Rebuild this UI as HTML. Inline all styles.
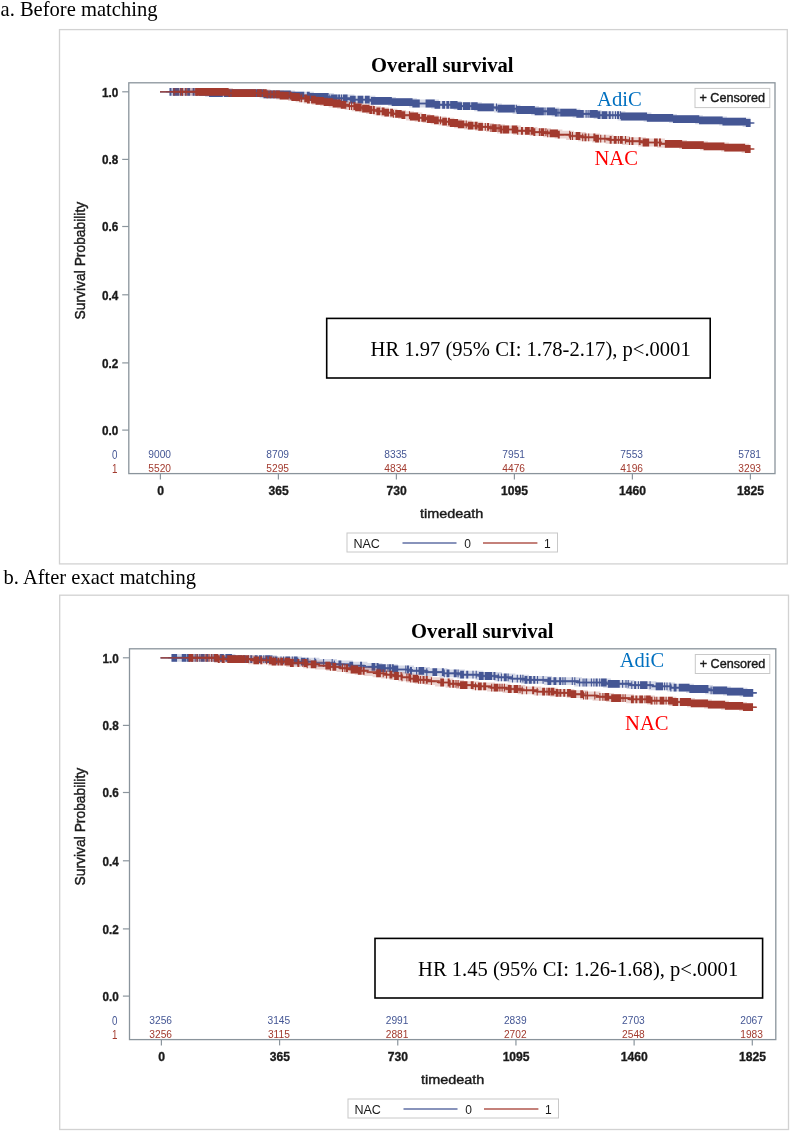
<!DOCTYPE html>
<html lang="en"><head><meta charset="utf-8"><title>Overall survival</title>
<style>html,body{margin:0;padding:0;background:#fff}body{width:790px;height:1132px;overflow:hidden}</style></head>
<body>
<svg width="790" height="1132" viewBox="0 0 790 1132" style="display:block">
<rect width="790" height="1132" fill="#fff"/>
<text x="0.5" y="15.6" font-family='"Liberation Serif", "Times New Roman", serif' font-size="20.55" font-weight="normal" fill="#000" text-anchor="start" textLength="157" lengthAdjust="spacingAndGlyphs">a. Before matching</text>
<rect x="59.5" y="29.6" width="727.80" height="534.30" fill="#fff" stroke="#d2d2d2" stroke-width="1.3"/>
<rect x="128.8" y="82.8" width="646.2" height="390.8" fill="#fff" stroke="#8a949c" stroke-width="1.3"/>
<text x="442.3" y="71.9" font-family='"Liberation Serif", "Times New Roman", serif' font-size="20.55" font-weight="bold" fill="#000" text-anchor="middle" textLength="142.4" lengthAdjust="spacingAndGlyphs">Overall survival</text>
<line x1="122.20000000000002" y1="91.80" x2="128.8" y2="91.80" stroke="#8b959d" stroke-width="1.2"/>
<text x="118.3" y="96.55" font-family='"Liberation Sans", Arial, sans-serif' font-size="13.3" font-weight="bold" fill="#1a1a1a" text-anchor="end" textLength="16.3" lengthAdjust="spacingAndGlyphs" stroke="#1a1a1a" stroke-width="0.35">1.0</text>
<line x1="122.20000000000002" y1="159.40" x2="128.8" y2="159.40" stroke="#8b959d" stroke-width="1.2"/>
<text x="118.3" y="164.15" font-family='"Liberation Sans", Arial, sans-serif' font-size="13.3" font-weight="bold" fill="#1a1a1a" text-anchor="end" textLength="16.3" lengthAdjust="spacingAndGlyphs" stroke="#1a1a1a" stroke-width="0.35">0.8</text>
<line x1="122.20000000000002" y1="226.50" x2="128.8" y2="226.50" stroke="#8b959d" stroke-width="1.2"/>
<text x="118.3" y="231.25" font-family='"Liberation Sans", Arial, sans-serif' font-size="13.3" font-weight="bold" fill="#1a1a1a" text-anchor="end" textLength="16.3" lengthAdjust="spacingAndGlyphs" stroke="#1a1a1a" stroke-width="0.35">0.6</text>
<line x1="122.20000000000002" y1="294.80" x2="128.8" y2="294.80" stroke="#8b959d" stroke-width="1.2"/>
<text x="118.3" y="299.55" font-family='"Liberation Sans", Arial, sans-serif' font-size="13.3" font-weight="bold" fill="#1a1a1a" text-anchor="end" textLength="16.3" lengthAdjust="spacingAndGlyphs" stroke="#1a1a1a" stroke-width="0.35">0.4</text>
<line x1="122.20000000000002" y1="362.90" x2="128.8" y2="362.90" stroke="#8b959d" stroke-width="1.2"/>
<text x="118.3" y="367.65" font-family='"Liberation Sans", Arial, sans-serif' font-size="13.3" font-weight="bold" fill="#1a1a1a" text-anchor="end" textLength="16.3" lengthAdjust="spacingAndGlyphs" stroke="#1a1a1a" stroke-width="0.35">0.2</text>
<line x1="122.20000000000002" y1="430.10" x2="128.8" y2="430.10" stroke="#8b959d" stroke-width="1.2"/>
<text x="118.3" y="434.85" font-family='"Liberation Sans", Arial, sans-serif' font-size="13.3" font-weight="bold" fill="#1a1a1a" text-anchor="end" textLength="16.3" lengthAdjust="spacingAndGlyphs" stroke="#1a1a1a" stroke-width="0.35">0.0</text>
<text transform="translate(85.0 260.6) rotate(-90)" font-family='"Liberation Sans", Arial, sans-serif' font-size="14.5" font-weight="normal" fill="#1a1a1a" stroke="#1a1a1a" stroke-width="0.45" text-anchor="middle" textLength="117.6" lengthAdjust="spacingAndGlyphs">Survival Probability</text>
<line x1="160.40" y1="473.6" x2="160.40" y2="479.40000000000003" stroke="#8b959d" stroke-width="1.2"/>
<text x="160.6" y="495.4" font-family='"Liberation Sans", Arial, sans-serif' font-size="13.3" font-weight="bold" fill="#1a1a1a" text-anchor="middle" textLength="6.8" lengthAdjust="spacingAndGlyphs" stroke="#1a1a1a" stroke-width="0.35">0</text>
<text x="159.7" y="457.8" font-family='"Liberation Sans", Arial, sans-serif' font-size="10.2" font-weight="normal" fill="#445694" text-anchor="middle">9000</text>
<text x="159.7" y="472.2" font-family='"Liberation Sans", Arial, sans-serif' font-size="10.2" font-weight="normal" fill="#A23A2E" text-anchor="middle">5520</text>
<line x1="278.40" y1="473.6" x2="278.40" y2="479.40000000000003" stroke="#8b959d" stroke-width="1.2"/>
<text x="278.6" y="495.4" font-family='"Liberation Sans", Arial, sans-serif' font-size="13.3" font-weight="bold" fill="#1a1a1a" text-anchor="middle" textLength="20.2" lengthAdjust="spacingAndGlyphs" stroke="#1a1a1a" stroke-width="0.35">365</text>
<text x="277.7" y="457.8" font-family='"Liberation Sans", Arial, sans-serif' font-size="10.2" font-weight="normal" fill="#445694" text-anchor="middle">8709</text>
<text x="277.7" y="472.2" font-family='"Liberation Sans", Arial, sans-serif' font-size="10.2" font-weight="normal" fill="#A23A2E" text-anchor="middle">5295</text>
<line x1="396.40" y1="473.6" x2="396.40" y2="479.40000000000003" stroke="#8b959d" stroke-width="1.2"/>
<text x="396.6" y="495.4" font-family='"Liberation Sans", Arial, sans-serif' font-size="13.3" font-weight="bold" fill="#1a1a1a" text-anchor="middle" textLength="20.2" lengthAdjust="spacingAndGlyphs" stroke="#1a1a1a" stroke-width="0.35">730</text>
<text x="395.7" y="457.8" font-family='"Liberation Sans", Arial, sans-serif' font-size="10.2" font-weight="normal" fill="#445694" text-anchor="middle">8335</text>
<text x="395.7" y="472.2" font-family='"Liberation Sans", Arial, sans-serif' font-size="10.2" font-weight="normal" fill="#A23A2E" text-anchor="middle">4834</text>
<line x1="514.40" y1="473.6" x2="514.40" y2="479.40000000000003" stroke="#8b959d" stroke-width="1.2"/>
<text x="514.6" y="495.4" font-family='"Liberation Sans", Arial, sans-serif' font-size="13.3" font-weight="bold" fill="#1a1a1a" text-anchor="middle" textLength="27.0" lengthAdjust="spacingAndGlyphs" stroke="#1a1a1a" stroke-width="0.35">1095</text>
<text x="513.7" y="457.8" font-family='"Liberation Sans", Arial, sans-serif' font-size="10.2" font-weight="normal" fill="#445694" text-anchor="middle">7951</text>
<text x="513.7" y="472.2" font-family='"Liberation Sans", Arial, sans-serif' font-size="10.2" font-weight="normal" fill="#A23A2E" text-anchor="middle">4476</text>
<line x1="632.40" y1="473.6" x2="632.40" y2="479.40000000000003" stroke="#8b959d" stroke-width="1.2"/>
<text x="632.6" y="495.4" font-family='"Liberation Sans", Arial, sans-serif' font-size="13.3" font-weight="bold" fill="#1a1a1a" text-anchor="middle" textLength="27.0" lengthAdjust="spacingAndGlyphs" stroke="#1a1a1a" stroke-width="0.35">1460</text>
<text x="631.7" y="457.8" font-family='"Liberation Sans", Arial, sans-serif' font-size="10.2" font-weight="normal" fill="#445694" text-anchor="middle">7553</text>
<text x="631.7" y="472.2" font-family='"Liberation Sans", Arial, sans-serif' font-size="10.2" font-weight="normal" fill="#A23A2E" text-anchor="middle">4196</text>
<line x1="750.40" y1="473.6" x2="750.40" y2="479.40000000000003" stroke="#8b959d" stroke-width="1.2"/>
<text x="750.6" y="495.4" font-family='"Liberation Sans", Arial, sans-serif' font-size="13.3" font-weight="bold" fill="#1a1a1a" text-anchor="middle" textLength="27.0" lengthAdjust="spacingAndGlyphs" stroke="#1a1a1a" stroke-width="0.35">1825</text>
<text x="749.7" y="457.8" font-family='"Liberation Sans", Arial, sans-serif' font-size="10.2" font-weight="normal" fill="#445694" text-anchor="middle">5781</text>
<text x="749.7" y="472.2" font-family='"Liberation Sans", Arial, sans-serif' font-size="10.2" font-weight="normal" fill="#A23A2E" text-anchor="middle">3293</text>
<text transform="translate(114.6 458.6) scale(0.72 1)" font-family='"Liberation Sans", Arial, sans-serif' font-size="13.6" fill="#445694" text-anchor="middle">0</text>
<text transform="translate(114.6 472.9) scale(0.72 1)" font-family='"Liberation Sans", Arial, sans-serif' font-size="13.6" fill="#A23A2E" text-anchor="middle">1</text>
<text x="451.6" y="517.6" font-family='"Liberation Sans", Arial, sans-serif' font-size="13" font-weight="normal" fill="#1a1a1a" text-anchor="middle" textLength="63.3" lengthAdjust="spacingAndGlyphs" stroke="#1a1a1a" stroke-width="0.4">timedeath</text>
<rect x="347" y="533" width="210.5" height="19" fill="#fff" stroke="#c8c8c8" stroke-width="1"/>
<text x="353.4" y="547.5" font-family='"Liberation Sans", Arial, sans-serif' font-size="12" font-weight="normal" fill="#1a1a1a" text-anchor="start" textLength="26.5" lengthAdjust="spacingAndGlyphs">NAC</text>
<line x1="402.5" y1="542.9" x2="456.5" y2="542.9" stroke="#445694" stroke-width="1.5" stroke-opacity="0.85"/>
<text x="467.6" y="547.5" font-family='"Liberation Sans", Arial, sans-serif' font-size="12" font-weight="normal" fill="#1a1a1a" text-anchor="middle">0</text>
<line x1="483" y1="542.9" x2="537.4" y2="542.9" stroke="#A23A2E" stroke-width="1.5" stroke-opacity="0.85"/>
<text x="547.4" y="547.5" font-family='"Liberation Sans", Arial, sans-serif' font-size="12" font-weight="normal" fill="#1a1a1a" text-anchor="middle">1</text>
<rect x="695" y="88.4" width="74.79999999999995" height="19.19999999999999" fill="#fff" stroke="#c8c8c8" stroke-width="1"/>
<text x="699.4" y="102.39999999999999" font-family='"Liberation Sans", Arial, sans-serif' font-size="12.4" font-weight="normal" fill="#1a1a1a" text-anchor="start" textLength="65.6" lengthAdjust="spacingAndGlyphs" stroke="#1a1a1a" stroke-width="0.4">+ Censored</text>
<path d="M170.0 91.8 L209.0 91.8 L209.0 93.1 L263.5 93.1 L263.5 94.4 L291.0 94.4 L291.0 95.7 L310.0 95.7 L310.0 97.0 L330.0 97.0 L330.0 98.3 L350.5 98.3 L350.5 99.6 L371.5 99.6 L371.5 100.9 L392.0 100.9 L392.0 102.2 L413.0 102.2 L413.0 103.5 L435.0 103.5 L435.0 104.8 L457.5 104.8 L457.5 106.1 L478.0 106.1 L478.0 107.4 L498.0 107.4 L498.0 108.7 L516.5 108.7 L516.5 110.0 L535.0 110.0 L535.0 111.3 L555.5 111.3 L555.5 112.6 L576.5 112.6 L576.5 113.9 L597.5 113.9 L597.5 115.2 L621.5 115.2 L621.5 116.5 L647.5 116.5 L647.5 117.8 L673.0 117.8 L673.0 119.1 L699.0 119.1 L699.0 120.4 L723.0 120.4 L723.0 121.7 L746.5 121.7 L746.5 123.0 L750.6 123.0" fill="none" stroke="#445694" stroke-width="7.8" stroke-opacity="0.22"/>
<path d="M170.0 91.8 L209.0 91.8 L209.0 93.1 L263.5 93.1 L263.5 94.4 L291.0 94.4 L291.0 95.7 L310.0 95.7 L310.0 97.0 L330.0 97.0 L330.0 98.3 L350.5 98.3 L350.5 99.6 L371.5 99.6 L371.5 100.9 L392.0 100.9 L392.0 102.2 L413.0 102.2 L413.0 103.5 L435.0 103.5 L435.0 104.8 L457.5 104.8 L457.5 106.1 L478.0 106.1 L478.0 107.4 L498.0 107.4 L498.0 108.7 L516.5 108.7 L516.5 110.0 L535.0 110.0 L535.0 111.3 L555.5 111.3 L555.5 112.6 L576.5 112.6 L576.5 113.9 L597.5 113.9 L597.5 115.2 L621.5 115.2 L621.5 116.5 L647.5 116.5 L647.5 117.8 L673.0 117.8 L673.0 119.1 L699.0 119.1 L699.0 120.4 L723.0 120.4 L723.0 121.7 L746.5 121.7 L746.5 123.0 L750.6 123.0" fill="none" stroke="#445694" stroke-width="2.4" stroke-opacity="0.55"/>
<path d="M160.0 91.8 L209.0 91.8 L209.0 93.1 L263.5 93.1 L263.5 94.4 L291.0 94.4 L291.0 95.7 L310.0 95.7 L310.0 97.0 L330.0 97.0 L330.0 98.3 L350.5 98.3 L350.5 99.6 L371.5 99.6 L371.5 100.9 L392.0 100.9 L392.0 102.2 L413.0 102.2 L413.0 103.5 L435.0 103.5 L435.0 104.8 L457.5 104.8 L457.5 106.1 L478.0 106.1 L478.0 107.4 L498.0 107.4 L498.0 108.7 L516.5 108.7 L516.5 110.0 L535.0 110.0 L535.0 111.3 L555.5 111.3 L555.5 112.6 L576.5 112.6 L576.5 113.9 L597.5 113.9 L597.5 115.2 L621.5 115.2 L621.5 116.5 L647.5 116.5 L647.5 117.8 L673.0 117.8 L673.0 119.1 L699.0 119.1 L699.0 120.4 L723.0 120.4 L723.0 121.7 L746.5 121.7 L746.5 123.0 L753.8 123.0" fill="none" stroke="#445694" stroke-width="1.2" stroke-linejoin="round"/>
<path d="M170.0 87.9v7.8M170.9 87.9v7.8M166.1 91.8h3.9M171.0 91.8h3.9M173.4 87.9v7.8M174.3 87.9v7.8M175.2 87.9v7.8M176.1 87.9v7.8M177.0 87.9v7.8M177.9 87.9v7.8M178.8 87.9v7.8M169.5 91.8h3.9M179.4 91.8h3.9M181.5 87.9v7.8M182.4 87.9v7.8M177.6 91.8h3.9M182.8 91.8h3.9M185.4 87.9v7.8M181.5 91.8h3.9M185.4 91.8h3.9M187.7 87.9v7.8M188.6 87.9v7.8M189.5 87.9v7.8M183.8 91.8h3.9M189.6 91.8h3.9M193.2 87.9v7.8M194.1 87.9v7.8M189.3 91.8h3.9M194.7 91.8h3.9M196.3 87.9v7.8M197.2 87.9v7.8M192.4 91.8h3.9M197.7 91.8h3.9M199.7 87.9v7.8M200.6 87.9v7.8M201.5 87.9v7.8M202.4 87.9v7.8M203.3 87.9v7.8M204.2 87.9v7.8M205.1 87.9v7.8M206.0 87.9v7.8M206.9 87.9v7.8M207.8 87.9v7.8M208.7 87.9v7.8M209.6 89.2v7.8M210.5 89.2v7.8M211.4 89.2v7.8M212.3 89.2v7.8M213.2 89.2v7.8M214.1 89.2v7.8M215.0 89.2v7.8M215.9 89.2v7.8M216.8 89.2v7.8M217.7 89.2v7.8M218.6 89.2v7.8M219.5 89.2v7.8M220.4 89.2v7.8M221.3 89.2v7.8M222.2 89.2v7.8M195.8 91.8h3.9M222.9 93.1h3.9M224.5 89.2v7.8M225.4 89.2v7.8M226.3 89.2v7.8M227.2 89.2v7.8M228.1 89.2v7.8M229.0 89.2v7.8M229.9 89.2v7.8M230.8 89.2v7.8M231.7 89.2v7.8M232.6 89.2v7.8M233.5 89.2v7.8M234.4 89.2v7.8M235.3 89.2v7.8M236.2 89.2v7.8M237.1 89.2v7.8M238.0 89.2v7.8M238.9 89.2v7.8M239.8 89.2v7.8M240.7 89.2v7.8M241.6 89.2v7.8M242.5 89.2v7.8M243.4 89.2v7.8M244.3 89.2v7.8M245.2 89.2v7.8M246.1 89.2v7.8M247.0 89.2v7.8M247.9 89.2v7.8M248.8 89.2v7.8M249.7 89.2v7.8M250.6 89.2v7.8M251.5 89.2v7.8M252.4 89.2v7.8M253.3 89.2v7.8M254.2 89.2v7.8M255.1 89.2v7.8M256.0 89.2v7.8M256.9 89.2v7.8M257.8 89.2v7.8M258.7 89.2v7.8M259.6 89.2v7.8M260.5 89.2v7.8M261.4 89.2v7.8M262.3 89.2v7.8M263.2 89.2v7.8M264.1 90.5v7.8M265.0 90.5v7.8M265.9 90.5v7.8M266.8 90.5v7.8M267.7 90.5v7.8M268.6 90.5v7.8M269.5 90.5v7.8M270.4 90.5v7.8M271.3 90.5v7.8M272.2 90.5v7.8M273.1 90.5v7.8M274.0 90.5v7.8M274.9 90.5v7.8M275.8 90.5v7.8M276.7 90.5v7.8M277.6 90.5v7.8M278.5 90.5v7.8M279.4 90.5v7.8M280.3 90.5v7.8M281.2 90.5v7.8M282.1 90.5v7.8M283.0 90.5v7.8M283.9 90.5v7.8M284.8 90.5v7.8M285.7 90.5v7.8M286.6 90.5v7.8M287.5 90.5v7.8M288.4 90.5v7.8M289.3 90.5v7.8M290.2 90.5v7.8M291.1 91.8v7.8M292.0 91.8v7.8M292.9 91.8v7.8M293.8 91.8v7.8M294.7 91.8v7.8M295.6 91.8v7.8M296.5 91.8v7.8M297.4 91.8v7.8M298.3 91.8v7.8M299.2 91.8v7.8M300.1 91.8v7.8M301.0 91.8v7.8M301.9 91.8v7.8M302.8 91.8v7.8M303.7 91.8v7.8M220.6 93.1h3.9M304.6 95.7h3.9M307.4 91.8v7.8M308.3 91.8v7.8M309.2 91.8v7.8M310.1 93.1v7.8M311.0 93.1v7.8M311.9 93.1v7.8M312.8 93.1v7.8M313.7 93.1v7.8M314.6 93.1v7.8M315.5 93.1v7.8M316.4 93.1v7.8M317.3 93.1v7.8M318.2 93.1v7.8M319.1 93.1v7.8M320.0 93.1v7.8M320.9 93.1v7.8M321.8 93.1v7.8M322.7 93.1v7.8M323.6 93.1v7.8M324.5 93.1v7.8M325.4 93.1v7.8M326.3 93.1v7.8M327.2 93.1v7.8M328.1 93.1v7.8M303.5 95.7h3.9M328.2 97.0h3.9M329.8 94.4v7.8M325.9 98.3h3.9M330.0 98.3h3.9M331.6 94.4v7.8M332.5 94.4v7.8M333.4 94.4v7.8M334.3 94.4v7.8M335.2 94.4v7.8M336.1 94.4v7.8M337.0 94.4v7.8M327.7 98.3h3.9M337.1 98.3h3.9M338.7 94.4v7.8M339.6 94.4v7.8M334.8 98.3h3.9M339.9 98.3h3.9M341.5 94.4v7.8M337.6 98.3h3.9M341.5 98.3h3.9M343.4 94.4v7.8M344.3 94.4v7.8M345.2 94.4v7.8M346.1 94.4v7.8M347.0 94.4v7.8M339.5 98.3h3.9M347.5 98.3h3.9M350.6 95.7v7.8M351.5 95.7v7.8M352.4 95.7v7.8M353.3 95.7v7.8M354.2 95.7v7.8M355.1 95.7v7.8M346.7 99.6h3.9M355.9 99.6h3.9M358.2 95.7v7.8M359.1 95.7v7.8M360.0 95.7v7.8M360.9 95.7v7.8M361.8 95.7v7.8M362.7 95.7v7.8M354.3 99.6h3.9M363.2 99.6h3.9M365.5 95.7v7.8M366.4 95.7v7.8M367.3 95.7v7.8M368.2 95.7v7.8M369.1 95.7v7.8M361.6 99.6h3.9M369.9 99.6h3.9M371.5 97.0v7.8M372.4 97.0v7.8M373.3 97.0v7.8M374.2 97.0v7.8M375.1 97.0v7.8M376.0 97.0v7.8M376.9 97.0v7.8M377.8 97.0v7.8M378.7 97.0v7.8M379.6 97.0v7.8M380.5 97.0v7.8M381.4 97.0v7.8M382.3 97.0v7.8M383.2 97.0v7.8M384.1 97.0v7.8M385.0 97.0v7.8M385.9 97.0v7.8M386.8 97.0v7.8M387.7 97.0v7.8M388.6 97.0v7.8M389.5 97.0v7.8M390.4 97.0v7.8M391.3 97.0v7.8M392.2 98.3v7.8M393.1 98.3v7.8M394.0 98.3v7.8M394.9 98.3v7.8M395.8 98.3v7.8M396.7 98.3v7.8M397.6 98.3v7.8M398.5 98.3v7.8M399.4 98.3v7.8M400.3 98.3v7.8M401.2 98.3v7.8M402.1 98.3v7.8M403.0 98.3v7.8M403.9 98.3v7.8M404.8 98.3v7.8M405.7 98.3v7.8M406.6 98.3v7.8M407.5 98.3v7.8M408.4 98.3v7.8M409.3 98.3v7.8M410.2 98.3v7.8M411.1 98.3v7.8M412.0 98.3v7.8M412.9 99.6v7.8M413.8 99.6v7.8M414.7 99.6v7.8M415.6 99.6v7.8M416.5 99.6v7.8M417.4 99.6v7.8M418.3 99.6v7.8M419.2 99.6v7.8M367.6 100.9h3.9M419.4 103.5h3.9M426.1 99.6v7.8M427.0 99.6v7.8M427.9 99.6v7.8M428.8 99.6v7.8M429.7 99.6v7.8M430.6 99.6v7.8M431.5 99.6v7.8M432.4 99.6v7.8M433.3 99.6v7.8M434.2 99.6v7.8M435.1 100.9v7.8M436.0 100.9v7.8M436.9 100.9v7.8M437.8 100.9v7.8M438.7 100.9v7.8M439.6 100.9v7.8M422.2 103.5h3.9M440.3 104.8h3.9M442.7 100.9v7.8M443.6 100.9v7.8M444.5 100.9v7.8M438.8 104.8h3.9M445.2 104.8h3.9M446.9 100.9v7.8M447.8 100.9v7.8M448.7 100.9v7.8M443.0 104.8h3.9M449.1 104.8h3.9M450.7 100.9v7.8M451.6 100.9v7.8M452.5 100.9v7.8M453.4 100.9v7.8M454.3 100.9v7.8M455.2 100.9v7.8M456.1 100.9v7.8M457.0 100.9v7.8M457.9 102.2v7.8M458.8 102.2v7.8M459.7 102.2v7.8M460.6 102.2v7.8M461.5 102.2v7.8M446.8 104.8h3.9M461.8 106.1h3.9M463.5 102.2v7.8M464.4 102.2v7.8M465.3 102.2v7.8M466.2 102.2v7.8M467.1 102.2v7.8M468.0 102.2v7.8M468.9 102.2v7.8M469.8 102.2v7.8M459.6 106.1h3.9M470.0 106.1h3.9M471.7 102.2v7.8M472.6 102.2v7.8M473.5 102.2v7.8M474.4 102.2v7.8M475.3 102.2v7.8M476.2 102.2v7.8M477.1 102.2v7.8M478.0 103.5v7.8M478.9 103.5v7.8M479.8 103.5v7.8M480.7 103.5v7.8M481.6 103.5v7.8M482.5 103.5v7.8M483.4 103.5v7.8M484.3 103.5v7.8M485.2 103.5v7.8M486.1 103.5v7.8M487.0 103.5v7.8M487.9 103.5v7.8M488.8 103.5v7.8M489.7 103.5v7.8M490.6 103.5v7.8M491.5 103.5v7.8M492.4 103.5v7.8M493.3 103.5v7.8M467.8 106.1h3.9M493.4 107.4h3.9M496.5 103.5v7.8M492.6 107.4h3.9M496.5 107.4h3.9M498.1 104.8v7.8M499.0 104.8v7.8M499.9 104.8v7.8M500.8 104.8v7.8M501.7 104.8v7.8M502.6 104.8v7.8M503.5 104.8v7.8M504.4 104.8v7.8M505.3 104.8v7.8M506.2 104.8v7.8M507.1 104.8v7.8M508.0 104.8v7.8M508.9 104.8v7.8M509.8 104.8v7.8M510.7 104.8v7.8M511.6 104.8v7.8M512.5 104.8v7.8M513.4 104.8v7.8M514.3 104.8v7.8M494.2 108.7h3.9M514.5 108.7h3.9M516.3 104.8v7.8M517.2 106.1v7.8M518.1 106.1v7.8M519.0 106.1v7.8M519.9 106.1v7.8M520.8 106.1v7.8M521.7 106.1v7.8M522.6 106.1v7.8M523.5 106.1v7.8M524.4 106.1v7.8M525.3 106.1v7.8M526.2 106.1v7.8M527.1 106.1v7.8M528.0 106.1v7.8M528.9 106.1v7.8M529.8 106.1v7.8M530.7 106.1v7.8M531.6 106.1v7.8M532.5 106.1v7.8M533.4 106.1v7.8M534.3 106.1v7.8M535.2 107.4v7.8M536.1 107.4v7.8M537.0 107.4v7.8M537.9 107.4v7.8M538.8 107.4v7.8M539.7 107.4v7.8M540.6 107.4v7.8M541.5 107.4v7.8M542.4 107.4v7.8M543.3 107.4v7.8M512.4 108.7h3.9M543.3 111.3h3.9M545.0 107.4v7.8M541.1 111.3h3.9M545.1 111.3h3.9M547.3 107.4v7.8M548.2 107.4v7.8M549.1 107.4v7.8M550.0 107.4v7.8M550.9 107.4v7.8M551.8 107.4v7.8M552.7 107.4v7.8M553.6 107.4v7.8M554.5 107.4v7.8M555.4 108.7v7.8M556.3 108.7v7.8M557.2 108.7v7.8M543.4 111.3h3.9M557.3 112.6h3.9M558.9 108.7v7.8M555.0 112.6h3.9M559.1 112.6h3.9M560.7 108.7v7.8M561.6 108.7v7.8M562.5 108.7v7.8M563.4 108.7v7.8M564.3 108.7v7.8M565.2 108.7v7.8M566.1 108.7v7.8M567.0 108.7v7.8M567.9 108.7v7.8M568.8 108.7v7.8M569.7 108.7v7.8M570.6 108.7v7.8M571.5 108.7v7.8M572.4 108.7v7.8M573.3 108.7v7.8M574.2 108.7v7.8M575.1 108.7v7.8M576.0 108.7v7.8M576.9 110.0v7.8M577.8 110.0v7.8M578.7 110.0v7.8M579.6 110.0v7.8M580.5 110.0v7.8M581.4 110.0v7.8M582.3 110.0v7.8M583.2 110.0v7.8M556.8 112.6h3.9M583.5 113.9h3.9M586.1 110.0v7.8M582.2 113.9h3.9M586.5 113.9h3.9M588.1 110.0v7.8M584.2 113.9h3.9M588.3 113.9h3.9M590.0 110.0v7.8M590.9 110.0v7.8M591.8 110.0v7.8M592.7 110.0v7.8M593.6 110.0v7.8M594.5 110.0v7.8M595.4 110.0v7.8M596.3 110.0v7.8M597.2 110.0v7.8M598.1 111.3v7.8M599.0 111.3v7.8M599.9 111.3v7.8M586.1 113.9h3.9M600.6 115.2h3.9M602.2 111.3v7.8M603.1 111.3v7.8M604.0 111.3v7.8M604.9 111.3v7.8M605.8 111.3v7.8M606.7 111.3v7.8M598.3 115.2h3.9M607.5 115.2h3.9M609.3 111.3v7.8M610.2 111.3v7.8M605.4 115.2h3.9M610.2 115.2h3.9M612.8 111.3v7.8M608.9 115.2h3.9M613.3 115.2h3.9M615.5 111.3v7.8M611.6 115.2h3.9M615.9 115.2h3.9M617.6 111.3v7.8M618.5 111.3v7.8M613.7 115.2h3.9M618.8 115.2h3.9M620.4 111.3v7.8M621.3 112.6v7.8M622.2 112.6v7.8M623.1 112.6v7.8M624.0 112.6v7.8M624.9 112.6v7.8M625.8 112.6v7.8M626.7 112.6v7.8M627.6 112.6v7.8M628.5 112.6v7.8M629.4 112.6v7.8M630.3 112.6v7.8M631.2 112.6v7.8M632.1 112.6v7.8M633.0 112.6v7.8M633.9 112.6v7.8M634.8 112.6v7.8M635.7 112.6v7.8M636.6 112.6v7.8M637.5 112.6v7.8M638.4 112.6v7.8M639.3 112.6v7.8M640.2 112.6v7.8M641.1 112.6v7.8M642.0 112.6v7.8M642.9 112.6v7.8M643.8 112.6v7.8M644.7 112.6v7.8M645.6 112.6v7.8M646.5 112.6v7.8M647.4 113.9v7.8M648.3 113.9v7.8M649.2 113.9v7.8M650.1 113.9v7.8M651.0 113.9v7.8M651.9 113.9v7.8M652.8 113.9v7.8M653.7 113.9v7.8M654.6 113.9v7.8M655.5 113.9v7.8M656.4 113.9v7.8M657.3 113.9v7.8M658.2 113.9v7.8M659.1 113.9v7.8M660.0 113.9v7.8M660.9 113.9v7.8M661.8 113.9v7.8M662.7 113.9v7.8M663.6 113.9v7.8M664.5 113.9v7.8M665.4 113.9v7.8M666.3 113.9v7.8M667.2 113.9v7.8M668.1 113.9v7.8M669.0 113.9v7.8M669.9 113.9v7.8M670.8 113.9v7.8M671.7 113.9v7.8M672.6 113.9v7.8M673.5 115.2v7.8M674.4 115.2v7.8M675.3 115.2v7.8M676.2 115.2v7.8M677.1 115.2v7.8M678.0 115.2v7.8M678.9 115.2v7.8M679.8 115.2v7.8M680.7 115.2v7.8M681.6 115.2v7.8M682.5 115.2v7.8M683.4 115.2v7.8M684.3 115.2v7.8M685.2 115.2v7.8M686.1 115.2v7.8M687.0 115.2v7.8M687.9 115.2v7.8M688.8 115.2v7.8M689.7 115.2v7.8M690.6 115.2v7.8M691.5 115.2v7.8M692.4 115.2v7.8M693.3 115.2v7.8M694.2 115.2v7.8M695.1 115.2v7.8M696.0 115.2v7.8M696.9 115.2v7.8M697.8 115.2v7.8M698.7 115.2v7.8M699.6 116.5v7.8M700.5 116.5v7.8M701.4 116.5v7.8M702.3 116.5v7.8M703.2 116.5v7.8M704.1 116.5v7.8M705.0 116.5v7.8M705.9 116.5v7.8M706.8 116.5v7.8M707.7 116.5v7.8M708.6 116.5v7.8M709.5 116.5v7.8M710.4 116.5v7.8M711.3 116.5v7.8M712.2 116.5v7.8M713.1 116.5v7.8M714.0 116.5v7.8M714.9 116.5v7.8M715.8 116.5v7.8M716.7 116.5v7.8M717.6 116.5v7.8M718.5 116.5v7.8M719.4 116.5v7.8M720.3 116.5v7.8M721.2 116.5v7.8M722.1 116.5v7.8M723.0 117.8v7.8M723.9 117.8v7.8M724.8 117.8v7.8M725.7 117.8v7.8M726.6 117.8v7.8M727.5 117.8v7.8M728.4 117.8v7.8M729.3 117.8v7.8M730.2 117.8v7.8M731.1 117.8v7.8M732.0 117.8v7.8M732.9 117.8v7.8M733.8 117.8v7.8M734.7 117.8v7.8M735.6 117.8v7.8M736.5 117.8v7.8M737.4 117.8v7.8M738.3 117.8v7.8M739.2 117.8v7.8M740.1 117.8v7.8M741.0 117.8v7.8M741.9 117.8v7.8M742.8 117.8v7.8M743.7 117.8v7.8M744.6 117.8v7.8M745.5 117.8v7.8M746.4 119.1v7.8M747.3 119.1v7.8M748.2 119.1v7.8M749.1 119.1v7.8M750.0 119.1v7.8M616.5 115.2h3.9M750.6 123.0h3.9" fill="none" stroke="#445694" stroke-width="1.1"/>
<path d="M174.0 91.8 L229.0 91.8 L229.0 93.1 L266.5 93.1 L266.5 94.4 L280.0 94.4 L280.0 95.7 L292.0 95.7 L292.0 97.0 L299.5 97.0 L299.5 98.3 L307.5 98.3 L307.5 99.6 L315.5 99.6 L315.5 100.9 L324.0 100.9 L324.0 102.2 L332.5 102.2 L332.5 103.5 L341.0 103.5 L341.0 104.8 L348.5 104.8 L348.5 106.1 L355.5 106.1 L355.5 107.4 L363.0 107.4 L363.0 108.7 L370.0 108.7 L370.0 110.0 L377.0 110.0 L377.0 111.3 L385.0 111.3 L385.0 112.6 L393.5 112.6 L393.5 113.9 L402.0 113.9 L402.0 115.2 L410.0 115.2 L410.0 116.5 L418.5 116.5 L418.5 117.8 L426.5 117.8 L426.5 119.1 L434.5 119.1 L434.5 120.4 L442.5 120.4 L442.5 121.7 L450.5 121.7 L450.5 123.0 L458.0 123.0 L458.0 124.3 L468.0 124.3 L468.0 125.6 L479.0 125.6 L479.0 126.9 L490.0 126.9 L490.0 128.2 L501.0 128.2 L501.0 129.5 L517.0 129.5 L517.0 130.8 L533.5 130.8 L533.5 132.1 L547.0 132.1 L547.0 133.4 L558.5 133.4 L558.5 134.7 L570.0 134.7 L570.0 136.0 L582.0 136.0 L582.0 137.3 L596.0 137.3 L596.0 138.6 L609.5 138.6 L609.5 139.9 L626.0 139.9 L626.0 141.2 L642.0 141.2 L642.0 142.5 L661.0 142.5 L661.0 143.8 L683.0 143.8 L683.0 145.1 L704.0 145.1 L704.0 146.4 L725.0 146.4 L725.0 147.7 L745.5 147.7 L745.5 149.0 L750.6 149.0" fill="none" stroke="#A23A2E" stroke-width="7.8" stroke-opacity="0.22"/>
<path d="M174.0 91.8 L229.0 91.8 L229.0 93.1 L266.5 93.1 L266.5 94.4 L280.0 94.4 L280.0 95.7 L292.0 95.7 L292.0 97.0 L299.5 97.0 L299.5 98.3 L307.5 98.3 L307.5 99.6 L315.5 99.6 L315.5 100.9 L324.0 100.9 L324.0 102.2 L332.5 102.2 L332.5 103.5 L341.0 103.5 L341.0 104.8 L348.5 104.8 L348.5 106.1 L355.5 106.1 L355.5 107.4 L363.0 107.4 L363.0 108.7 L370.0 108.7 L370.0 110.0 L377.0 110.0 L377.0 111.3 L385.0 111.3 L385.0 112.6 L393.5 112.6 L393.5 113.9 L402.0 113.9 L402.0 115.2 L410.0 115.2 L410.0 116.5 L418.5 116.5 L418.5 117.8 L426.5 117.8 L426.5 119.1 L434.5 119.1 L434.5 120.4 L442.5 120.4 L442.5 121.7 L450.5 121.7 L450.5 123.0 L458.0 123.0 L458.0 124.3 L468.0 124.3 L468.0 125.6 L479.0 125.6 L479.0 126.9 L490.0 126.9 L490.0 128.2 L501.0 128.2 L501.0 129.5 L517.0 129.5 L517.0 130.8 L533.5 130.8 L533.5 132.1 L547.0 132.1 L547.0 133.4 L558.5 133.4 L558.5 134.7 L570.0 134.7 L570.0 136.0 L582.0 136.0 L582.0 137.3 L596.0 137.3 L596.0 138.6 L609.5 138.6 L609.5 139.9 L626.0 139.9 L626.0 141.2 L642.0 141.2 L642.0 142.5 L661.0 142.5 L661.0 143.8 L683.0 143.8 L683.0 145.1 L704.0 145.1 L704.0 146.4 L725.0 146.4 L725.0 147.7 L745.5 147.7 L745.5 149.0 L750.6 149.0" fill="none" stroke="#A23A2E" stroke-width="2.4" stroke-opacity="0.55"/>
<path d="M160.0 91.8 L229.0 91.8 L229.0 93.1 L266.5 93.1 L266.5 94.4 L280.0 94.4 L280.0 95.7 L292.0 95.7 L292.0 97.0 L299.5 97.0 L299.5 98.3 L307.5 98.3 L307.5 99.6 L315.5 99.6 L315.5 100.9 L324.0 100.9 L324.0 102.2 L332.5 102.2 L332.5 103.5 L341.0 103.5 L341.0 104.8 L348.5 104.8 L348.5 106.1 L355.5 106.1 L355.5 107.4 L363.0 107.4 L363.0 108.7 L370.0 108.7 L370.0 110.0 L377.0 110.0 L377.0 111.3 L385.0 111.3 L385.0 112.6 L393.5 112.6 L393.5 113.9 L402.0 113.9 L402.0 115.2 L410.0 115.2 L410.0 116.5 L418.5 116.5 L418.5 117.8 L426.5 117.8 L426.5 119.1 L434.5 119.1 L434.5 120.4 L442.5 120.4 L442.5 121.7 L450.5 121.7 L450.5 123.0 L458.0 123.0 L458.0 124.3 L468.0 124.3 L468.0 125.6 L479.0 125.6 L479.0 126.9 L490.0 126.9 L490.0 128.2 L501.0 128.2 L501.0 129.5 L517.0 129.5 L517.0 130.8 L533.5 130.8 L533.5 132.1 L547.0 132.1 L547.0 133.4 L558.5 133.4 L558.5 134.7 L570.0 134.7 L570.0 136.0 L582.0 136.0 L582.0 137.3 L596.0 137.3 L596.0 138.6 L609.5 138.6 L609.5 139.9 L626.0 139.9 L626.0 141.2 L642.0 141.2 L642.0 142.5 L661.0 142.5 L661.0 143.8 L683.0 143.8 L683.0 145.1 L704.0 145.1 L704.0 146.4 L725.0 146.4 L725.0 147.7 L745.5 147.7 L745.5 149.0 L753.8 149.0" fill="none" stroke="#A23A2E" stroke-width="1.2" stroke-linejoin="round"/>
<path d="M174.0 87.9v7.8M170.1 91.8h3.9M174.0 91.8h3.9M180.6 87.9v7.8M176.7 91.8h3.9M180.6 91.8h3.9M182.6 87.9v7.8M178.7 91.8h3.9M182.6 91.8h3.9M186.2 87.9v7.8M182.3 91.8h3.9M186.2 91.8h3.9M195.7 87.9v7.8M196.6 87.9v7.8M197.5 87.9v7.8M198.4 87.9v7.8M199.3 87.9v7.8M200.2 87.9v7.8M201.1 87.9v7.8M202.0 87.9v7.8M202.9 87.9v7.8M203.8 87.9v7.8M204.7 87.9v7.8M205.6 87.9v7.8M206.5 87.9v7.8M207.4 87.9v7.8M208.3 87.9v7.8M209.2 87.9v7.8M210.1 87.9v7.8M211.0 87.9v7.8M211.9 87.9v7.8M212.8 87.9v7.8M213.7 87.9v7.8M214.6 87.9v7.8M215.5 87.9v7.8M216.4 87.9v7.8M217.3 87.9v7.8M218.2 87.9v7.8M219.1 87.9v7.8M220.0 87.9v7.8M220.9 87.9v7.8M221.8 87.9v7.8M222.7 87.9v7.8M223.6 87.9v7.8M224.5 87.9v7.8M225.4 87.9v7.8M226.3 87.9v7.8M227.2 87.9v7.8M228.1 87.9v7.8M229.0 89.2v7.8M229.9 89.2v7.8M191.8 91.8h3.9M230.4 93.1h3.9M232.0 89.2v7.8M232.9 89.2v7.8M233.8 89.2v7.8M234.7 89.2v7.8M235.6 89.2v7.8M236.5 89.2v7.8M237.4 89.2v7.8M238.3 89.2v7.8M239.2 89.2v7.8M240.1 89.2v7.8M241.0 89.2v7.8M241.9 89.2v7.8M242.8 89.2v7.8M243.7 89.2v7.8M244.6 89.2v7.8M245.5 89.2v7.8M246.4 89.2v7.8M247.3 89.2v7.8M248.2 89.2v7.8M249.1 89.2v7.8M250.0 89.2v7.8M250.9 89.2v7.8M251.8 89.2v7.8M252.7 89.2v7.8M253.6 89.2v7.8M254.5 89.2v7.8M255.4 89.2v7.8M228.1 93.1h3.9M256.0 93.1h3.9M257.6 89.2v7.8M258.5 89.2v7.8M259.4 89.2v7.8M260.3 89.2v7.8M261.2 89.2v7.8M253.7 93.1h3.9M261.8 93.1h3.9M263.4 89.2v7.8M264.3 89.2v7.8M265.2 89.2v7.8M266.1 89.2v7.8M267.0 90.5v7.8M267.9 90.5v7.8M259.5 93.1h3.9M268.2 94.4h3.9M270.1 90.5v7.8M271.0 90.5v7.8M266.2 94.4h3.9M271.5 94.4h3.9M273.2 90.5v7.8M274.1 90.5v7.8M275.0 90.5v7.8M269.3 94.4h3.9M275.0 94.4h3.9M276.6 90.5v7.8M277.5 90.5v7.8M278.4 90.5v7.8M279.3 90.5v7.8M280.2 91.8v7.8M281.1 91.8v7.8M282.0 91.8v7.8M282.9 91.8v7.8M283.8 91.8v7.8M284.7 91.8v7.8M285.6 91.8v7.8M286.5 91.8v7.8M287.4 91.8v7.8M288.3 91.8v7.8M272.7 94.4h3.9M288.5 95.7h3.9M290.1 91.8v7.8M291.0 91.8v7.8M291.9 93.1v7.8M292.8 93.1v7.8M293.7 93.1v7.8M294.6 93.1v7.8M295.5 93.1v7.8M296.4 93.1v7.8M297.3 93.1v7.8M298.2 93.1v7.8M299.1 93.1v7.8M300.0 94.4v7.8M286.2 95.7h3.9M300.0 98.3h3.9M301.6 94.4v7.8M297.7 98.3h3.9M301.6 98.3h3.9M304.8 94.4v7.8M305.7 94.4v7.8M306.6 94.4v7.8M307.5 95.7v7.8M308.4 95.7v7.8M309.3 95.7v7.8M300.9 98.3h3.9M310.0 99.6h3.9M311.6 95.7v7.8M312.5 95.7v7.8M313.4 95.7v7.8M314.3 95.7v7.8M315.2 95.7v7.8M316.1 97.0v7.8M317.0 97.0v7.8M317.9 97.0v7.8M318.8 97.0v7.8M319.7 97.0v7.8M320.6 97.0v7.8M321.5 97.0v7.8M322.4 97.0v7.8M323.3 97.0v7.8M324.2 98.3v7.8M325.1 98.3v7.8M326.0 98.3v7.8M326.9 98.3v7.8M327.8 98.3v7.8M328.7 98.3v7.8M329.6 98.3v7.8M330.5 98.3v7.8M331.4 98.3v7.8M332.3 98.3v7.8M333.2 99.6v7.8M334.1 99.6v7.8M335.0 99.6v7.8M335.9 99.6v7.8M336.8 99.6v7.8M337.7 99.6v7.8M338.6 99.6v7.8M339.5 99.6v7.8M340.4 99.6v7.8M341.3 100.9v7.8M342.2 100.9v7.8M343.1 100.9v7.8M344.0 100.9v7.8M344.9 100.9v7.8M345.8 100.9v7.8M307.7 99.6h3.9M345.9 104.8h3.9M349.5 102.2v7.8M345.6 106.1h3.9M349.9 106.1h3.9M351.6 102.2v7.8M347.7 106.1h3.9M352.2 106.1h3.9M353.9 102.2v7.8M354.8 102.2v7.8M355.7 103.5v7.8M356.6 103.5v7.8M357.5 103.5v7.8M358.4 103.5v7.8M359.3 103.5v7.8M360.2 103.5v7.8M361.1 103.5v7.8M350.0 106.1h3.9M361.1 107.4h3.9M362.7 104.8v7.8M363.6 104.8v7.8M364.5 104.8v7.8M365.4 104.8v7.8M366.3 104.8v7.8M367.2 104.8v7.8M368.1 104.8v7.8M369.0 104.8v7.8M369.9 106.1v7.8M370.8 106.1v7.8M371.7 106.1v7.8M358.8 108.7h3.9M371.8 110.0h3.9M373.4 106.1v7.8M374.3 106.1v7.8M369.5 110.0h3.9M374.4 110.0h3.9M377.0 107.4v7.8M377.9 107.4v7.8M378.8 107.4v7.8M379.7 107.4v7.8M373.1 111.3h3.9M380.5 111.3h3.9M382.2 107.4v7.8M383.1 107.4v7.8M384.0 107.4v7.8M384.9 108.7v7.8M385.8 108.7v7.8M386.7 108.7v7.8M387.6 108.7v7.8M388.5 108.7v7.8M378.3 111.3h3.9M388.9 112.6h3.9M390.7 108.7v7.8M391.6 108.7v7.8M392.5 108.7v7.8M393.4 110.0v7.8M386.8 112.6h3.9M394.1 113.9h3.9M395.7 110.0v7.8M396.6 110.0v7.8M397.5 110.0v7.8M398.4 110.0v7.8M399.3 110.0v7.8M400.2 110.0v7.8M401.1 110.0v7.8M402.0 111.3v7.8M402.9 111.3v7.8M403.8 111.3v7.8M404.7 111.3v7.8M391.8 113.9h3.9M405.5 115.2h3.9M409.5 111.3v7.8M410.4 112.6v7.8M411.3 112.6v7.8M412.2 112.6v7.8M413.1 112.6v7.8M414.0 112.6v7.8M414.9 112.6v7.8M415.8 112.6v7.8M416.7 112.6v7.8M417.6 112.6v7.8M418.5 113.9v7.8M419.4 113.9v7.8M405.6 115.2h3.9M420.0 117.8h3.9M421.9 113.9v7.8M422.8 113.9v7.8M423.7 113.9v7.8M424.6 113.9v7.8M425.5 113.9v7.8M418.0 117.8h3.9M425.8 117.8h3.9M427.4 115.2v7.8M428.3 115.2v7.8M429.2 115.2v7.8M430.1 115.2v7.8M431.0 115.2v7.8M431.9 115.2v7.8M432.8 115.2v7.8M433.7 115.2v7.8M434.6 116.5v7.8M435.5 116.5v7.8M436.4 116.5v7.8M437.3 116.5v7.8M438.2 116.5v7.8M423.5 119.1h3.9M438.6 120.4h3.9M440.5 116.5v7.8M436.6 120.4h3.9M441.2 120.4h3.9M442.8 117.8v7.8M443.7 117.8v7.8M444.6 117.8v7.8M445.5 117.8v7.8M446.4 117.8v7.8M438.9 121.7h3.9M446.8 121.7h3.9M448.5 117.8v7.8M449.4 117.8v7.8M450.3 119.1v7.8M451.2 119.1v7.8M452.1 119.1v7.8M453.0 119.1v7.8M453.9 119.1v7.8M454.8 119.1v7.8M455.7 119.1v7.8M456.6 119.1v7.8M457.5 119.1v7.8M458.4 120.4v7.8M459.3 120.4v7.8M460.2 120.4v7.8M461.1 120.4v7.8M462.0 120.4v7.8M462.9 120.4v7.8M463.8 120.4v7.8M444.6 121.7h3.9M464.6 124.3h3.9M466.2 120.4v7.8M462.3 124.3h3.9M466.2 124.3h3.9M468.4 121.7v7.8M469.3 121.7v7.8M470.2 121.7v7.8M471.1 121.7v7.8M472.0 121.7v7.8M472.9 121.7v7.8M464.5 125.6h3.9M473.6 125.6h3.9M475.2 121.7v7.8M476.1 121.7v7.8M477.0 121.7v7.8M471.3 125.6h3.9M477.2 125.6h3.9M478.8 123.0v7.8M479.7 123.0v7.8M480.6 123.0v7.8M481.5 123.0v7.8M482.4 123.0v7.8M474.9 126.9h3.9M483.2 126.9h3.9M485.3 123.0v7.8M481.4 126.9h3.9M485.9 126.9h3.9M487.6 123.0v7.8M488.5 123.0v7.8M483.7 126.9h3.9M489.1 126.9h3.9M491.0 124.3v7.8M487.1 128.2h3.9M491.0 128.2h3.9M492.6 124.3v7.8M493.5 124.3v7.8M494.4 124.3v7.8M495.3 124.3v7.8M496.2 124.3v7.8M488.7 128.2h3.9M496.3 128.2h3.9M498.1 124.3v7.8M494.2 128.2h3.9M498.2 128.2h3.9M499.8 124.3v7.8M500.7 125.6v7.8M501.6 125.6v7.8M495.9 128.2h3.9M501.6 129.5h3.9M503.2 125.6v7.8M504.1 125.6v7.8M505.0 125.6v7.8M505.9 125.6v7.8M506.8 125.6v7.8M507.7 125.6v7.8M508.6 125.6v7.8M499.3 129.5h3.9M509.2 129.5h3.9M512.3 125.6v7.8M513.2 125.6v7.8M514.1 125.6v7.8M515.0 125.6v7.8M515.9 125.6v7.8M516.8 125.6v7.8M517.7 126.9v7.8M508.4 129.5h3.9M518.4 130.8h3.9M521.5 126.9v7.8M522.4 126.9v7.8M517.6 130.8h3.9M522.8 130.8h3.9M525.6 126.9v7.8M526.5 126.9v7.8M527.4 126.9v7.8M528.3 126.9v7.8M529.2 126.9v7.8M521.7 130.8h3.9M529.6 130.8h3.9M531.2 126.9v7.8M532.1 126.9v7.8M533.0 126.9v7.8M533.9 128.2v7.8M534.8 128.2v7.8M527.3 130.8h3.9M535.0 132.1h3.9M539.4 128.2v7.8M535.5 132.1h3.9M539.4 132.1h3.9M541.0 128.2v7.8M541.9 128.2v7.8M542.8 128.2v7.8M543.7 128.2v7.8M537.1 132.1h3.9M544.2 132.1h3.9M545.9 128.2v7.8M542.0 132.1h3.9M546.1 132.1h3.9M547.7 129.5v7.8M543.8 133.4h3.9M547.7 133.4h3.9M550.2 129.5v7.8M551.1 129.5v7.8M552.0 129.5v7.8M552.9 129.5v7.8M553.8 129.5v7.8M554.7 129.5v7.8M555.6 129.5v7.8M556.5 129.5v7.8M557.4 129.5v7.8M558.3 130.8v7.8M559.2 130.8v7.8M546.3 133.4h3.9M560.0 134.7h3.9M569.7 130.8v7.8M570.6 132.1v7.8M565.8 134.7h3.9M570.9 136.0h3.9M572.5 132.1v7.8M568.6 136.0h3.9M573.0 136.0h3.9M576.2 132.1v7.8M577.1 132.1v7.8M578.0 132.1v7.8M578.9 132.1v7.8M579.8 132.1v7.8M572.3 136.0h3.9M580.2 136.0h3.9M582.7 133.4v7.8M578.8 137.3h3.9M582.9 137.3h3.9M585.0 133.4v7.8M585.9 133.4v7.8M581.1 137.3h3.9M586.2 137.3h3.9M588.7 133.4v7.8M584.8 137.3h3.9M588.9 137.3h3.9M593.9 133.4v7.8M594.8 133.4v7.8M595.7 134.7v7.8M596.6 134.7v7.8M597.5 134.7v7.8M598.4 134.7v7.8M590.0 137.3h3.9M599.1 138.6h3.9M600.7 134.7v7.8M596.8 138.6h3.9M601.0 138.6h3.9M604.9 134.7v7.8M601.0 138.6h3.9M605.2 138.6h3.9M610.2 136.0v7.8M611.1 136.0v7.8M606.3 139.9h3.9M611.5 139.9h3.9M614.3 136.0v7.8M615.2 136.0v7.8M616.1 136.0v7.8M610.4 139.9h3.9M616.8 139.9h3.9M618.4 136.0v7.8M614.5 139.9h3.9M618.8 139.9h3.9M620.4 136.0v7.8M621.3 136.0v7.8M622.2 136.0v7.8M616.5 139.9h3.9M622.7 139.9h3.9M625.5 136.0v7.8M621.6 139.9h3.9M625.5 139.9h3.9M629.5 137.3v7.8M625.6 141.2h3.9M630.4 141.2h3.9M632.0 137.3v7.8M632.9 137.3v7.8M628.1 141.2h3.9M632.9 141.2h3.9M639.2 137.3v7.8M640.1 137.3v7.8M635.3 141.2h3.9M640.7 141.2h3.9M643.2 138.6v7.8M644.1 138.6v7.8M645.0 138.6v7.8M645.9 138.6v7.8M646.8 138.6v7.8M647.7 138.6v7.8M648.6 138.6v7.8M639.3 142.5h3.9M649.0 142.5h3.9M654.5 138.6v7.8M655.4 138.6v7.8M656.3 138.6v7.8M657.2 138.6v7.8M650.6 142.5h3.9M657.6 142.5h3.9M659.5 138.6v7.8M660.4 138.6v7.8M655.6 142.5h3.9M661.2 143.8h3.9M665.4 139.9v7.8M666.3 139.9v7.8M667.2 139.9v7.8M668.1 139.9v7.8M669.0 139.9v7.8M669.9 139.9v7.8M670.8 139.9v7.8M671.7 139.9v7.8M672.6 139.9v7.8M673.5 139.9v7.8M674.4 139.9v7.8M675.3 139.9v7.8M676.2 139.9v7.8M677.1 139.9v7.8M678.0 139.9v7.8M678.9 139.9v7.8M679.8 139.9v7.8M680.7 139.9v7.8M681.6 139.9v7.8M682.5 141.2v7.8M683.4 141.2v7.8M684.3 141.2v7.8M685.2 141.2v7.8M686.1 141.2v7.8M687.0 141.2v7.8M687.9 141.2v7.8M688.8 141.2v7.8M689.7 141.2v7.8M690.6 141.2v7.8M691.5 141.2v7.8M692.4 141.2v7.8M693.3 141.2v7.8M694.2 141.2v7.8M695.1 141.2v7.8M696.0 141.2v7.8M696.9 141.2v7.8M697.8 141.2v7.8M698.7 141.2v7.8M699.6 141.2v7.8M700.5 141.2v7.8M701.4 141.2v7.8M702.3 141.2v7.8M703.2 141.2v7.8M704.1 142.5v7.8M705.0 142.5v7.8M705.9 142.5v7.8M706.8 142.5v7.8M707.7 142.5v7.8M708.6 142.5v7.8M709.5 142.5v7.8M710.4 142.5v7.8M711.3 142.5v7.8M712.2 142.5v7.8M713.1 142.5v7.8M714.0 142.5v7.8M714.9 142.5v7.8M715.8 142.5v7.8M716.7 142.5v7.8M717.6 142.5v7.8M718.5 142.5v7.8M719.4 142.5v7.8M720.3 142.5v7.8M721.2 142.5v7.8M722.1 142.5v7.8M723.0 142.5v7.8M723.9 142.5v7.8M724.8 143.8v7.8M725.7 143.8v7.8M726.6 143.8v7.8M727.5 143.8v7.8M728.4 143.8v7.8M729.3 143.8v7.8M730.2 143.8v7.8M731.1 143.8v7.8M732.0 143.8v7.8M732.9 143.8v7.8M733.8 143.8v7.8M734.7 143.8v7.8M735.6 143.8v7.8M736.5 143.8v7.8M737.4 143.8v7.8M738.3 143.8v7.8M739.2 143.8v7.8M740.1 143.8v7.8M741.0 143.8v7.8M741.9 143.8v7.8M742.8 143.8v7.8M743.7 143.8v7.8M744.6 143.8v7.8M745.5 145.1v7.8M746.4 145.1v7.8M747.3 145.1v7.8M748.2 145.1v7.8M749.1 145.1v7.8M750.0 145.1v7.8M661.5 143.8h3.9M750.6 149.0h3.9" fill="none" stroke="#A23A2E" stroke-width="1.1"/>
<text x="597.0" y="105.6" font-family='"Liberation Serif", "Times New Roman", serif' font-size="20.55" font-weight="normal" fill="#0070c0" text-anchor="start" textLength="44.8" lengthAdjust="spacingAndGlyphs">AdiC</text>
<text x="594.5" y="164.7" font-family='"Liberation Serif", "Times New Roman", serif' font-size="20.55" font-weight="normal" fill="#ff0000" text-anchor="start" textLength="43.4" lengthAdjust="spacingAndGlyphs">NAC</text>
<rect x="326.7" y="318.4" width="383.50000000000006" height="59.60000000000002" fill="#fff" stroke="#000" stroke-width="1.6"/>
<text x="370.6" y="355.9" font-family='"Liberation Serif", "Times New Roman", serif' font-size="20.55" font-weight="normal" fill="#000" text-anchor="start" textLength="320.1" lengthAdjust="spacingAndGlyphs">HR 1.97 (95% CI: 1.78-2.17), p&lt;.0001</text>
<text x="3.5" y="583.9" font-family='"Liberation Serif", "Times New Roman", serif' font-size="20.55" font-weight="normal" fill="#000" text-anchor="start" textLength="192.5" lengthAdjust="spacingAndGlyphs">b. After exact matching</text>
<rect x="59.7" y="595.2" width="728.80" height="534.30" fill="#fff" stroke="#d2d2d2" stroke-width="1.3"/>
<rect x="129.5" y="648.8" width="646.3" height="390.79999999999995" fill="#fff" stroke="#8a949c" stroke-width="1.3"/>
<text x="482.3" y="637.9" font-family='"Liberation Serif", "Times New Roman", serif' font-size="20.55" font-weight="bold" fill="#000" text-anchor="middle" textLength="142.4" lengthAdjust="spacingAndGlyphs">Overall survival</text>
<line x1="122.9" y1="657.80" x2="129.5" y2="657.80" stroke="#8b959d" stroke-width="1.2"/>
<text x="118.8" y="662.55" font-family='"Liberation Sans", Arial, sans-serif' font-size="13.3" font-weight="bold" fill="#1a1a1a" text-anchor="end" textLength="16.3" lengthAdjust="spacingAndGlyphs" stroke="#1a1a1a" stroke-width="0.35">1.0</text>
<line x1="122.9" y1="725.40" x2="129.5" y2="725.40" stroke="#8b959d" stroke-width="1.2"/>
<text x="118.8" y="730.15" font-family='"Liberation Sans", Arial, sans-serif' font-size="13.3" font-weight="bold" fill="#1a1a1a" text-anchor="end" textLength="16.3" lengthAdjust="spacingAndGlyphs" stroke="#1a1a1a" stroke-width="0.35">0.8</text>
<line x1="122.9" y1="792.50" x2="129.5" y2="792.50" stroke="#8b959d" stroke-width="1.2"/>
<text x="118.8" y="797.25" font-family='"Liberation Sans", Arial, sans-serif' font-size="13.3" font-weight="bold" fill="#1a1a1a" text-anchor="end" textLength="16.3" lengthAdjust="spacingAndGlyphs" stroke="#1a1a1a" stroke-width="0.35">0.6</text>
<line x1="122.9" y1="860.80" x2="129.5" y2="860.80" stroke="#8b959d" stroke-width="1.2"/>
<text x="118.8" y="865.55" font-family='"Liberation Sans", Arial, sans-serif' font-size="13.3" font-weight="bold" fill="#1a1a1a" text-anchor="end" textLength="16.3" lengthAdjust="spacingAndGlyphs" stroke="#1a1a1a" stroke-width="0.35">0.4</text>
<line x1="122.9" y1="928.90" x2="129.5" y2="928.90" stroke="#8b959d" stroke-width="1.2"/>
<text x="118.8" y="933.65" font-family='"Liberation Sans", Arial, sans-serif' font-size="13.3" font-weight="bold" fill="#1a1a1a" text-anchor="end" textLength="16.3" lengthAdjust="spacingAndGlyphs" stroke="#1a1a1a" stroke-width="0.35">0.2</text>
<line x1="122.9" y1="996.10" x2="129.5" y2="996.10" stroke="#8b959d" stroke-width="1.2"/>
<text x="118.8" y="1000.85" font-family='"Liberation Sans", Arial, sans-serif' font-size="13.3" font-weight="bold" fill="#1a1a1a" text-anchor="end" textLength="16.3" lengthAdjust="spacingAndGlyphs" stroke="#1a1a1a" stroke-width="0.35">0.0</text>
<text transform="translate(85.0 826.6) rotate(-90)" font-family='"Liberation Sans", Arial, sans-serif' font-size="14.5" font-weight="normal" fill="#1a1a1a" stroke="#1a1a1a" stroke-width="0.45" text-anchor="middle" textLength="117.6" lengthAdjust="spacingAndGlyphs">Survival Probability</text>
<line x1="161.40" y1="1039.6" x2="161.40" y2="1045.3999999999999" stroke="#8b959d" stroke-width="1.2"/>
<text x="161.6" y="1061.4" font-family='"Liberation Sans", Arial, sans-serif' font-size="13.3" font-weight="bold" fill="#1a1a1a" text-anchor="middle" textLength="6.8" lengthAdjust="spacingAndGlyphs" stroke="#1a1a1a" stroke-width="0.35">0</text>
<text x="160.7" y="1023.8" font-family='"Liberation Sans", Arial, sans-serif' font-size="10.2" font-weight="normal" fill="#445694" text-anchor="middle">3256</text>
<text x="160.7" y="1038.2" font-family='"Liberation Sans", Arial, sans-serif' font-size="10.2" font-weight="normal" fill="#A23A2E" text-anchor="middle">3256</text>
<line x1="279.58" y1="1039.6" x2="279.58" y2="1045.3999999999999" stroke="#8b959d" stroke-width="1.2"/>
<text x="279.78" y="1061.4" font-family='"Liberation Sans", Arial, sans-serif' font-size="13.3" font-weight="bold" fill="#1a1a1a" text-anchor="middle" textLength="20.2" lengthAdjust="spacingAndGlyphs" stroke="#1a1a1a" stroke-width="0.35">365</text>
<text x="278.88" y="1023.8" font-family='"Liberation Sans", Arial, sans-serif' font-size="10.2" font-weight="normal" fill="#445694" text-anchor="middle">3145</text>
<text x="278.88" y="1038.2" font-family='"Liberation Sans", Arial, sans-serif' font-size="10.2" font-weight="normal" fill="#A23A2E" text-anchor="middle">3115</text>
<line x1="397.76" y1="1039.6" x2="397.76" y2="1045.3999999999999" stroke="#8b959d" stroke-width="1.2"/>
<text x="397.96" y="1061.4" font-family='"Liberation Sans", Arial, sans-serif' font-size="13.3" font-weight="bold" fill="#1a1a1a" text-anchor="middle" textLength="20.2" lengthAdjust="spacingAndGlyphs" stroke="#1a1a1a" stroke-width="0.35">730</text>
<text x="397.06" y="1023.8" font-family='"Liberation Sans", Arial, sans-serif' font-size="10.2" font-weight="normal" fill="#445694" text-anchor="middle">2991</text>
<text x="397.06" y="1038.2" font-family='"Liberation Sans", Arial, sans-serif' font-size="10.2" font-weight="normal" fill="#A23A2E" text-anchor="middle">2881</text>
<line x1="515.94" y1="1039.6" x2="515.94" y2="1045.3999999999999" stroke="#8b959d" stroke-width="1.2"/>
<text x="516.14" y="1061.4" font-family='"Liberation Sans", Arial, sans-serif' font-size="13.3" font-weight="bold" fill="#1a1a1a" text-anchor="middle" textLength="27.0" lengthAdjust="spacingAndGlyphs" stroke="#1a1a1a" stroke-width="0.35">1095</text>
<text x="515.24" y="1023.8" font-family='"Liberation Sans", Arial, sans-serif' font-size="10.2" font-weight="normal" fill="#445694" text-anchor="middle">2839</text>
<text x="515.24" y="1038.2" font-family='"Liberation Sans", Arial, sans-serif' font-size="10.2" font-weight="normal" fill="#A23A2E" text-anchor="middle">2702</text>
<line x1="634.12" y1="1039.6" x2="634.12" y2="1045.3999999999999" stroke="#8b959d" stroke-width="1.2"/>
<text x="634.32" y="1061.4" font-family='"Liberation Sans", Arial, sans-serif' font-size="13.3" font-weight="bold" fill="#1a1a1a" text-anchor="middle" textLength="27.0" lengthAdjust="spacingAndGlyphs" stroke="#1a1a1a" stroke-width="0.35">1460</text>
<text x="633.42" y="1023.8" font-family='"Liberation Sans", Arial, sans-serif' font-size="10.2" font-weight="normal" fill="#445694" text-anchor="middle">2703</text>
<text x="633.42" y="1038.2" font-family='"Liberation Sans", Arial, sans-serif' font-size="10.2" font-weight="normal" fill="#A23A2E" text-anchor="middle">2548</text>
<line x1="752.30" y1="1039.6" x2="752.30" y2="1045.3999999999999" stroke="#8b959d" stroke-width="1.2"/>
<text x="752.5" y="1061.4" font-family='"Liberation Sans", Arial, sans-serif' font-size="13.3" font-weight="bold" fill="#1a1a1a" text-anchor="middle" textLength="27.0" lengthAdjust="spacingAndGlyphs" stroke="#1a1a1a" stroke-width="0.35">1825</text>
<text x="751.6" y="1023.8" font-family='"Liberation Sans", Arial, sans-serif' font-size="10.2" font-weight="normal" fill="#445694" text-anchor="middle">2067</text>
<text x="751.6" y="1038.2" font-family='"Liberation Sans", Arial, sans-serif' font-size="10.2" font-weight="normal" fill="#A23A2E" text-anchor="middle">1983</text>
<text transform="translate(114.6 1024.6) scale(0.72 1)" font-family='"Liberation Sans", Arial, sans-serif' font-size="13.6" fill="#445694" text-anchor="middle">0</text>
<text transform="translate(114.6 1038.9) scale(0.72 1)" font-family='"Liberation Sans", Arial, sans-serif' font-size="13.6" fill="#A23A2E" text-anchor="middle">1</text>
<text x="452.6" y="1083.6" font-family='"Liberation Sans", Arial, sans-serif' font-size="13" font-weight="normal" fill="#1a1a1a" text-anchor="middle" textLength="63.3" lengthAdjust="spacingAndGlyphs" stroke="#1a1a1a" stroke-width="0.4">timedeath</text>
<rect x="348.0" y="1099" width="210.5" height="19" fill="#fff" stroke="#c8c8c8" stroke-width="1"/>
<text x="354.4" y="1113.5" font-family='"Liberation Sans", Arial, sans-serif' font-size="12" font-weight="normal" fill="#1a1a1a" text-anchor="start" textLength="26.5" lengthAdjust="spacingAndGlyphs">NAC</text>
<line x1="403.5" y1="1108.9" x2="457.5" y2="1108.9" stroke="#445694" stroke-width="1.5" stroke-opacity="0.85"/>
<text x="468.6" y="1113.5" font-family='"Liberation Sans", Arial, sans-serif' font-size="12" font-weight="normal" fill="#1a1a1a" text-anchor="middle">0</text>
<line x1="484.0" y1="1108.9" x2="538.4" y2="1108.9" stroke="#A23A2E" stroke-width="1.5" stroke-opacity="0.85"/>
<text x="548.4" y="1113.5" font-family='"Liberation Sans", Arial, sans-serif' font-size="12" font-weight="normal" fill="#1a1a1a" text-anchor="middle">1</text>
<rect x="695.3" y="654.5" width="74.5" height="19.0" fill="#fff" stroke="#c8c8c8" stroke-width="1"/>
<text x="699.6999999999999" y="668.3" font-family='"Liberation Sans", Arial, sans-serif' font-size="12.4" font-weight="normal" fill="#1a1a1a" text-anchor="start" textLength="65.6" lengthAdjust="spacingAndGlyphs" stroke="#1a1a1a" stroke-width="0.4">+ Censored</text>
<path d="M172.0 657.8 L231.5 657.8 L231.5 659.1 L273.0 659.1 L273.0 660.4 L298.0 660.4 L298.0 661.7 L315.5 661.7 L315.5 663.0 L333.0 663.0 L333.0 664.3 L349.0 664.3 L349.0 665.6 L363.5 665.6 L363.5 666.9 L378.5 666.9 L378.5 668.2 L394.0 668.2 L394.0 669.5 L410.0 669.5 L410.0 670.8 L426.0 670.8 L426.0 672.1 L443.5 672.1 L443.5 673.4 L461.0 673.4 L461.0 674.7 L479.5 674.7 L479.5 676.0 L498.0 676.0 L498.0 677.3 L511.5 677.3 L511.5 678.6 L525.0 678.6 L525.0 679.9 L548.0 679.9 L548.0 681.2 L578.0 681.2 L578.0 682.5 L607.0 682.5 L607.0 683.8 L630.5 683.8 L630.5 685.1 L652.5 685.1 L652.5 686.4 L671.0 686.4 L671.0 687.7 L690.0 687.7 L690.0 689.0 L709.0 689.0 L709.0 690.3 L727.0 690.3 L727.0 691.6 L743.5 691.6 L743.5 692.9 L753.0 692.9" fill="none" stroke="#445694" stroke-width="7.8" stroke-opacity="0.22"/>
<path d="M172.0 657.8 L231.5 657.8 L231.5 659.1 L273.0 659.1 L273.0 660.4 L298.0 660.4 L298.0 661.7 L315.5 661.7 L315.5 663.0 L333.0 663.0 L333.0 664.3 L349.0 664.3 L349.0 665.6 L363.5 665.6 L363.5 666.9 L378.5 666.9 L378.5 668.2 L394.0 668.2 L394.0 669.5 L410.0 669.5 L410.0 670.8 L426.0 670.8 L426.0 672.1 L443.5 672.1 L443.5 673.4 L461.0 673.4 L461.0 674.7 L479.5 674.7 L479.5 676.0 L498.0 676.0 L498.0 677.3 L511.5 677.3 L511.5 678.6 L525.0 678.6 L525.0 679.9 L548.0 679.9 L548.0 681.2 L578.0 681.2 L578.0 682.5 L607.0 682.5 L607.0 683.8 L630.5 683.8 L630.5 685.1 L652.5 685.1 L652.5 686.4 L671.0 686.4 L671.0 687.7 L690.0 687.7 L690.0 689.0 L709.0 689.0 L709.0 690.3 L727.0 690.3 L727.0 691.6 L743.5 691.6 L743.5 692.9 L753.0 692.9" fill="none" stroke="#445694" stroke-width="2.4" stroke-opacity="0.55"/>
<path d="M160.5 657.8 L231.5 657.8 L231.5 659.1 L273.0 659.1 L273.0 660.4 L298.0 660.4 L298.0 661.7 L315.5 661.7 L315.5 663.0 L333.0 663.0 L333.0 664.3 L349.0 664.3 L349.0 665.6 L363.5 665.6 L363.5 666.9 L378.5 666.9 L378.5 668.2 L394.0 668.2 L394.0 669.5 L410.0 669.5 L410.0 670.8 L426.0 670.8 L426.0 672.1 L443.5 672.1 L443.5 673.4 L461.0 673.4 L461.0 674.7 L479.5 674.7 L479.5 676.0 L498.0 676.0 L498.0 677.3 L511.5 677.3 L511.5 678.6 L525.0 678.6 L525.0 679.9 L548.0 679.9 L548.0 681.2 L578.0 681.2 L578.0 682.5 L607.0 682.5 L607.0 683.8 L630.5 683.8 L630.5 685.1 L652.5 685.1 L652.5 686.4 L671.0 686.4 L671.0 687.7 L690.0 687.7 L690.0 689.0 L709.0 689.0 L709.0 690.3 L727.0 690.3 L727.0 691.6 L743.5 691.6 L743.5 692.9 L756.5 692.9" fill="none" stroke="#445694" stroke-width="1.2" stroke-linejoin="round"/>
<path d="M172.0 653.9v7.8M172.9 653.9v7.8M173.8 653.9v7.8M174.7 653.9v7.8M175.6 653.9v7.8M176.5 653.9v7.8M168.1 657.8h3.9M176.7 657.8h3.9M182.3 653.9v7.8M183.2 653.9v7.8M184.1 653.9v7.8M185.0 653.9v7.8M185.9 653.9v7.8M178.4 657.8h3.9M186.0 657.8h3.9M187.6 653.9v7.8M188.5 653.9v7.8M189.4 653.9v7.8M183.7 657.8h3.9M189.8 657.8h3.9M191.8 653.9v7.8M192.7 653.9v7.8M187.9 657.8h3.9M193.6 657.8h3.9M195.2 653.9v7.8M191.3 657.8h3.9M195.4 657.8h3.9M197.4 653.9v7.8M193.5 657.8h3.9M197.7 657.8h3.9M199.8 653.9v7.8M195.9 657.8h3.9M199.8 657.8h3.9M201.4 653.9v7.8M202.3 653.9v7.8M203.2 653.9v7.8M204.1 653.9v7.8M197.5 657.8h3.9M204.6 657.8h3.9M206.7 653.9v7.8M207.6 653.9v7.8M202.8 657.8h3.9M208.3 657.8h3.9M211.5 653.9v7.8M207.6 657.8h3.9M212.4 657.8h3.9M214.0 653.9v7.8M214.9 653.9v7.8M215.8 653.9v7.8M216.7 653.9v7.8M217.6 653.9v7.8M210.1 657.8h3.9M218.1 657.8h3.9M220.6 653.9v7.8M221.5 653.9v7.8M222.4 653.9v7.8M223.3 653.9v7.8M216.7 657.8h3.9M223.3 657.8h3.9M226.0 653.9v7.8M226.9 653.9v7.8M227.8 653.9v7.8M228.7 653.9v7.8M229.6 653.9v7.8M230.5 653.9v7.8M231.4 653.9v7.8M232.3 655.2v7.8M233.2 655.2v7.8M234.1 655.2v7.8M235.0 655.2v7.8M235.9 655.2v7.8M222.1 657.8h3.9M236.1 659.1h3.9M238.0 655.2v7.8M238.9 655.2v7.8M239.8 655.2v7.8M240.7 655.2v7.8M241.6 655.2v7.8M234.1 659.1h3.9M241.7 659.1h3.9M243.6 655.2v7.8M244.5 655.2v7.8M245.4 655.2v7.8M239.7 659.1h3.9M245.7 659.1h3.9M248.5 655.2v7.8M244.6 659.1h3.9M249.1 659.1h3.9M250.8 655.2v7.8M251.7 655.2v7.8M246.9 659.1h3.9M252.2 659.1h3.9M255.3 655.2v7.8M256.2 655.2v7.8M257.1 655.2v7.8M251.4 659.1h3.9M257.5 659.1h3.9M259.6 655.2v7.8M260.5 655.2v7.8M261.4 655.2v7.8M255.7 659.1h3.9M262.2 659.1h3.9M263.8 655.2v7.8M259.9 659.1h3.9M263.9 659.1h3.9M265.7 655.2v7.8M266.6 655.2v7.8M267.5 655.2v7.8M268.4 655.2v7.8M269.3 655.2v7.8M270.2 655.2v7.8M261.8 659.1h3.9M270.2 659.1h3.9M271.8 655.2v7.8M267.9 659.1h3.9M271.8 659.1h3.9M273.4 656.5v7.8M269.5 660.4h3.9M273.4 660.4h3.9M275.1 656.5v7.8M276.0 656.5v7.8M276.9 656.5v7.8M271.2 660.4h3.9M277.2 660.4h3.9M281.0 656.5v7.8M277.1 660.4h3.9M281.7 660.4h3.9M283.6 656.5v7.8M279.7 660.4h3.9M284.1 660.4h3.9M285.9 656.5v7.8M286.8 656.5v7.8M287.7 656.5v7.8M288.6 656.5v7.8M289.5 656.5v7.8M282.0 660.4h3.9M289.9 660.4h3.9M292.3 656.5v7.8M288.4 660.4h3.9M292.7 660.4h3.9M294.3 656.5v7.8M295.2 656.5v7.8M296.1 656.5v7.8M297.0 656.5v7.8M297.9 657.8v7.8M290.4 660.4h3.9M298.4 661.7h3.9M301.4 657.8v7.8M302.3 657.8v7.8M303.2 657.8v7.8M304.1 657.8v7.8M305.0 657.8v7.8M297.5 661.7h3.9M305.3 661.7h3.9M307.1 657.8v7.8M308.0 657.8v7.8M303.2 661.7h3.9M308.6 661.7h3.9M314.8 657.8v7.8M315.7 659.1v7.8M310.9 661.7h3.9M316.5 663.0h3.9M323.6 659.1v7.8M319.7 663.0h3.9M323.6 663.0h3.9M332.2 659.1v7.8M328.3 663.0h3.9M332.2 663.0h3.9M334.4 660.4v7.8M330.5 664.3h3.9M334.4 664.3h3.9M339.0 660.4v7.8M339.9 660.4v7.8M340.8 660.4v7.8M335.1 664.3h3.9M341.4 664.3h3.9M349.9 661.7v7.8M350.8 661.7v7.8M351.7 661.7v7.8M352.6 661.7v7.8M346.0 665.6h3.9M353.5 665.6h3.9M360.6 661.7v7.8M361.5 661.7v7.8M356.7 665.6h3.9M362.0 665.6h3.9M372.1 663.0v7.8M373.0 663.0v7.8M373.9 663.0v7.8M374.8 663.0v7.8M368.2 666.9h3.9M375.1 666.9h3.9M377.1 663.0v7.8M378.0 663.0v7.8M378.9 664.3v7.8M379.8 664.3v7.8M380.7 664.3v7.8M381.6 664.3v7.8M382.5 664.3v7.8M383.4 664.3v7.8M384.3 664.3v7.8M385.2 664.3v7.8M373.2 666.9h3.9M385.8 668.2h3.9M388.0 664.3v7.8M384.1 668.2h3.9M388.0 668.2h3.9M389.6 664.3v7.8M390.5 664.3v7.8M385.7 668.2h3.9M390.7 668.2h3.9M392.3 664.3v7.8M393.2 664.3v7.8M394.1 665.6v7.8M395.0 665.6v7.8M395.9 665.6v7.8M396.8 665.6v7.8M397.7 665.6v7.8M388.4 668.2h3.9M398.6 669.5h3.9M405.8 665.6v7.8M401.9 669.5h3.9M405.9 669.5h3.9M407.5 665.6v7.8M408.4 665.6v7.8M403.6 669.5h3.9M408.9 669.5h3.9M410.5 666.9v7.8M411.4 666.9v7.8M406.6 670.8h3.9M412.0 670.8h3.9M416.6 666.9v7.8M412.7 670.8h3.9M416.8 670.8h3.9M419.1 666.9v7.8M420.0 666.9v7.8M420.9 666.9v7.8M421.8 666.9v7.8M422.7 666.9v7.8M423.6 666.9v7.8M415.2 670.8h3.9M424.4 670.8h3.9M426.8 668.2v7.8M422.9 672.1h3.9M427.3 672.1h3.9M433.0 668.2v7.8M433.9 668.2v7.8M434.8 668.2v7.8M435.7 668.2v7.8M436.6 668.2v7.8M429.1 672.1h3.9M436.7 672.1h3.9M442.4 668.2v7.8M443.3 668.2v7.8M444.2 669.5v7.8M438.5 672.1h3.9M444.8 673.4h3.9M447.1 669.5v7.8M448.0 669.5v7.8M448.9 669.5v7.8M443.2 673.4h3.9M449.5 673.4h3.9M454.3 669.5v7.8M455.2 669.5v7.8M456.1 669.5v7.8M450.4 673.4h3.9M456.3 673.4h3.9M458.1 669.5v7.8M454.2 673.4h3.9M458.5 673.4h3.9M460.7 670.8v7.8M461.6 670.8v7.8M462.5 670.8v7.8M463.4 670.8v7.8M456.8 674.7h3.9M463.9 674.7h3.9M466.8 670.8v7.8M467.7 670.8v7.8M462.9 674.7h3.9M468.3 674.7h3.9M473.0 670.8v7.8M469.1 674.7h3.9M473.0 674.7h3.9M476.2 670.8v7.8M472.3 674.7h3.9M476.7 674.7h3.9M479.5 672.1v7.8M480.4 672.1v7.8M481.3 672.1v7.8M482.2 672.1v7.8M483.1 672.1v7.8M475.6 676.0h3.9M483.6 676.0h3.9M485.3 672.1v7.8M486.2 672.1v7.8M487.1 672.1v7.8M488.0 672.1v7.8M488.9 672.1v7.8M489.8 672.1v7.8M490.7 672.1v7.8M491.6 672.1v7.8M481.4 676.0h3.9M492.4 676.0h3.9M494.0 672.1v7.8M494.9 672.1v7.8M490.1 676.0h3.9M495.6 676.0h3.9M498.3 673.4v7.8M494.4 677.3h3.9M498.5 677.3h3.9M501.4 673.4v7.8M497.5 677.3h3.9M502.1 677.3h3.9M504.4 673.4v7.8M505.3 673.4v7.8M506.2 673.4v7.8M500.5 677.3h3.9M506.5 677.3h3.9M508.1 673.4v7.8M504.2 677.3h3.9M508.5 677.3h3.9M512.5 674.7v7.8M508.6 678.6h3.9M512.5 678.6h3.9M517.3 674.7v7.8M513.4 678.6h3.9M517.3 678.6h3.9M520.6 674.7v7.8M516.7 678.6h3.9M520.6 678.6h3.9M522.9 674.7v7.8M519.0 678.6h3.9M523.5 678.6h3.9M525.1 676.0v7.8M526.0 676.0v7.8M526.9 676.0v7.8M521.2 679.9h3.9M527.0 679.9h3.9M529.4 676.0v7.8M530.3 676.0v7.8M531.2 676.0v7.8M525.5 679.9h3.9M531.2 679.9h3.9M533.8 676.0v7.8M534.7 676.0v7.8M529.9 679.9h3.9M535.0 679.9h3.9M537.5 676.0v7.8M533.6 679.9h3.9M537.7 679.9h3.9M543.1 676.0v7.8M539.2 679.9h3.9M543.1 679.9h3.9M548.0 677.3v7.8M548.9 677.3v7.8M549.8 677.3v7.8M550.7 677.3v7.8M544.1 681.2h3.9M551.5 681.2h3.9M554.0 677.3v7.8M554.9 677.3v7.8M555.8 677.3v7.8M550.1 681.2h3.9M556.5 681.2h3.9M559.7 677.3v7.8M560.6 677.3v7.8M555.8 681.2h3.9M561.0 681.2h3.9M562.9 677.3v7.8M559.0 681.2h3.9M563.1 681.2h3.9M565.1 677.3v7.8M561.2 681.2h3.9M565.4 681.2h3.9M572.3 677.3v7.8M568.4 681.2h3.9M572.7 681.2h3.9M574.8 677.3v7.8M570.9 681.2h3.9M575.4 681.2h3.9M579.6 678.6v7.8M575.7 682.5h3.9M580.4 682.5h3.9M583.1 678.6v7.8M579.2 682.5h3.9M583.2 682.5h3.9M585.0 678.6v7.8M581.1 682.5h3.9M585.0 682.5h3.9M586.6 678.6v7.8M582.7 682.5h3.9M586.7 682.5h3.9M591.4 678.6v7.8M587.5 682.5h3.9M592.3 682.5h3.9M593.9 678.6v7.8M590.0 682.5h3.9M594.6 682.5h3.9M596.2 678.6v7.8M597.1 678.6v7.8M592.3 682.5h3.9M597.4 682.5h3.9M599.7 678.6v7.8M595.8 682.5h3.9M600.0 682.5h3.9M601.6 678.6v7.8M602.5 678.6v7.8M603.4 678.6v7.8M604.3 678.6v7.8M605.2 678.6v7.8M606.1 678.6v7.8M597.7 682.5h3.9M606.8 683.8h3.9M608.4 679.9v7.8M609.3 679.9v7.8M610.2 679.9v7.8M611.1 679.9v7.8M612.0 679.9v7.8M612.9 679.9v7.8M613.8 679.9v7.8M614.7 679.9v7.8M615.6 679.9v7.8M616.5 679.9v7.8M617.4 679.9v7.8M618.3 679.9v7.8M619.2 679.9v7.8M604.5 683.8h3.9M620.1 683.8h3.9M622.6 679.9v7.8M618.7 683.8h3.9M622.6 683.8h3.9M626.0 679.9v7.8M622.1 683.8h3.9M626.4 683.8h3.9M628.2 679.9v7.8M624.3 683.8h3.9M628.2 683.8h3.9M631.8 681.2v7.8M627.9 685.1h3.9M631.8 685.1h3.9M634.7 681.2v7.8M635.6 681.2v7.8M630.8 685.1h3.9M635.7 685.1h3.9M638.4 681.2v7.8M634.5 685.1h3.9M639.0 685.1h3.9M640.6 681.2v7.8M641.5 681.2v7.8M642.4 681.2v7.8M643.3 681.2v7.8M644.2 681.2v7.8M645.1 681.2v7.8M646.0 681.2v7.8M646.9 681.2v7.8M636.7 685.1h3.9M647.5 685.1h3.9M650.1 681.2v7.8M646.2 685.1h3.9M650.1 685.1h3.9M656.2 682.5v7.8M657.1 682.5v7.8M658.0 682.5v7.8M658.9 682.5v7.8M659.8 682.5v7.8M660.7 682.5v7.8M661.6 682.5v7.8M662.5 682.5v7.8M652.3 686.4h3.9M663.0 686.4h3.9M664.6 682.5v7.8M660.7 686.4h3.9M664.6 686.4h3.9M667.0 682.5v7.8M663.1 686.4h3.9M667.0 686.4h3.9M670.0 682.5v7.8M670.9 683.8v7.8M666.1 686.4h3.9M671.4 687.7h3.9M674.2 683.8v7.8M675.1 683.8v7.8M676.0 683.8v7.8M670.3 687.7h3.9M676.2 687.7h3.9M679.3 683.8v7.8M675.4 687.7h3.9M680.0 687.7h3.9M680.0 683.8v7.8M680.9 683.8v7.8M681.8 683.8v7.8M682.7 683.8v7.8M683.6 683.8v7.8M684.5 683.8v7.8M685.4 683.8v7.8M686.3 683.8v7.8M687.2 683.8v7.8M688.1 683.8v7.8M689.0 683.8v7.8M689.9 685.1v7.8M690.8 685.1v7.8M691.7 685.1v7.8M692.6 685.1v7.8M693.5 685.1v7.8M694.4 685.1v7.8M695.3 685.1v7.8M696.2 685.1v7.8M697.1 685.1v7.8M698.0 685.1v7.8M698.9 685.1v7.8M699.8 685.1v7.8M700.7 685.1v7.8M701.6 685.1v7.8M702.5 685.1v7.8M703.4 685.1v7.8M704.3 685.1v7.8M705.2 685.1v7.8M706.1 685.1v7.8M707.0 685.1v7.8M707.9 685.1v7.8M676.1 687.7h3.9M708.0 689.0h3.9M711.1 686.4v7.8M707.2 690.3h3.9M711.1 690.3h3.9M713.1 686.4v7.8M714.0 686.4v7.8M714.9 686.4v7.8M715.8 686.4v7.8M716.7 686.4v7.8M717.6 686.4v7.8M718.5 686.4v7.8M719.4 686.4v7.8M720.3 686.4v7.8M721.2 686.4v7.8M722.1 686.4v7.8M723.0 686.4v7.8M723.9 686.4v7.8M724.8 686.4v7.8M725.7 686.4v7.8M726.6 686.4v7.8M727.5 687.7v7.8M728.4 687.7v7.8M729.3 687.7v7.8M730.2 687.7v7.8M731.1 687.7v7.8M732.0 687.7v7.8M732.9 687.7v7.8M733.8 687.7v7.8M734.7 687.7v7.8M735.6 687.7v7.8M736.5 687.7v7.8M737.4 687.7v7.8M738.3 687.7v7.8M739.2 687.7v7.8M740.1 687.7v7.8M741.0 687.7v7.8M741.9 687.7v7.8M742.8 687.7v7.8M743.7 689.0v7.8M744.6 689.0v7.8M745.5 689.0v7.8M746.4 689.0v7.8M747.3 689.0v7.8M748.2 689.0v7.8M749.1 689.0v7.8M750.0 689.0v7.8M750.9 689.0v7.8M751.8 689.0v7.8M752.7 689.0v7.8M709.2 690.3h3.9M753.0 692.9h3.9" fill="none" stroke="#445694" stroke-width="1.1"/>
<path d="M189.0 657.8 L218.0 657.8 L218.0 659.1 L252.0 659.1 L252.0 660.4 L272.0 660.4 L272.0 661.7 L290.0 661.7 L290.0 663.0 L307.0 663.0 L307.0 664.3 L319.0 664.3 L319.0 665.6 L330.0 665.6 L330.0 666.9 L340.5 666.9 L340.5 668.2 L349.5 668.2 L349.5 669.5 L358.5 669.5 L358.5 670.8 L367.5 670.8 L367.5 672.1 L376.5 672.1 L376.5 673.4 L385.0 673.4 L385.0 674.7 L393.5 674.7 L393.5 676.0 L402.0 676.0 L402.0 677.3 L410.0 677.3 L410.0 678.6 L418.5 678.6 L418.5 679.9 L428.5 679.9 L428.5 681.2 L439.0 681.2 L439.0 682.5 L449.5 682.5 L449.5 683.8 L460.0 683.8 L460.0 685.1 L475.5 685.1 L475.5 686.4 L491.0 686.4 L491.0 687.7 L506.5 687.7 L506.5 689.0 L521.5 689.0 L521.5 690.3 L537.5 690.3 L537.5 691.6 L554.0 691.6 L554.0 692.9 L570.5 692.9 L570.5 694.2 L584.0 694.2 L584.0 695.5 L596.5 695.5 L596.5 696.8 L610.0 696.8 L610.0 698.1 L630.0 698.1 L630.0 699.4 L651.0 699.4 L651.0 700.7 L672.5 700.7 L672.5 702.0 L691.0 702.0 L691.0 703.3 L708.0 703.3 L708.0 704.6 L725.0 704.6 L725.0 705.9 L743.0 705.9 L743.0 707.2 L753.0 707.2" fill="none" stroke="#A23A2E" stroke-width="7.8" stroke-opacity="0.22"/>
<path d="M189.0 657.8 L218.0 657.8 L218.0 659.1 L252.0 659.1 L252.0 660.4 L272.0 660.4 L272.0 661.7 L290.0 661.7 L290.0 663.0 L307.0 663.0 L307.0 664.3 L319.0 664.3 L319.0 665.6 L330.0 665.6 L330.0 666.9 L340.5 666.9 L340.5 668.2 L349.5 668.2 L349.5 669.5 L358.5 669.5 L358.5 670.8 L367.5 670.8 L367.5 672.1 L376.5 672.1 L376.5 673.4 L385.0 673.4 L385.0 674.7 L393.5 674.7 L393.5 676.0 L402.0 676.0 L402.0 677.3 L410.0 677.3 L410.0 678.6 L418.5 678.6 L418.5 679.9 L428.5 679.9 L428.5 681.2 L439.0 681.2 L439.0 682.5 L449.5 682.5 L449.5 683.8 L460.0 683.8 L460.0 685.1 L475.5 685.1 L475.5 686.4 L491.0 686.4 L491.0 687.7 L506.5 687.7 L506.5 689.0 L521.5 689.0 L521.5 690.3 L537.5 690.3 L537.5 691.6 L554.0 691.6 L554.0 692.9 L570.5 692.9 L570.5 694.2 L584.0 694.2 L584.0 695.5 L596.5 695.5 L596.5 696.8 L610.0 696.8 L610.0 698.1 L630.0 698.1 L630.0 699.4 L651.0 699.4 L651.0 700.7 L672.5 700.7 L672.5 702.0 L691.0 702.0 L691.0 703.3 L708.0 703.3 L708.0 704.6 L725.0 704.6 L725.0 705.9 L743.0 705.9 L743.0 707.2 L753.0 707.2" fill="none" stroke="#A23A2E" stroke-width="2.4" stroke-opacity="0.55"/>
<path d="M160.5 657.8 L218.0 657.8 L218.0 659.1 L252.0 659.1 L252.0 660.4 L272.0 660.4 L272.0 661.7 L290.0 661.7 L290.0 663.0 L307.0 663.0 L307.0 664.3 L319.0 664.3 L319.0 665.6 L330.0 665.6 L330.0 666.9 L340.5 666.9 L340.5 668.2 L349.5 668.2 L349.5 669.5 L358.5 669.5 L358.5 670.8 L367.5 670.8 L367.5 672.1 L376.5 672.1 L376.5 673.4 L385.0 673.4 L385.0 674.7 L393.5 674.7 L393.5 676.0 L402.0 676.0 L402.0 677.3 L410.0 677.3 L410.0 678.6 L418.5 678.6 L418.5 679.9 L428.5 679.9 L428.5 681.2 L439.0 681.2 L439.0 682.5 L449.5 682.5 L449.5 683.8 L460.0 683.8 L460.0 685.1 L475.5 685.1 L475.5 686.4 L491.0 686.4 L491.0 687.7 L506.5 687.7 L506.5 689.0 L521.5 689.0 L521.5 690.3 L537.5 690.3 L537.5 691.6 L554.0 691.6 L554.0 692.9 L570.5 692.9 L570.5 694.2 L584.0 694.2 L584.0 695.5 L596.5 695.5 L596.5 696.8 L610.0 696.8 L610.0 698.1 L630.0 698.1 L630.0 699.4 L651.0 699.4 L651.0 700.7 L672.5 700.7 L672.5 702.0 L691.0 702.0 L691.0 703.3 L708.0 703.3 L708.0 704.6 L725.0 704.6 L725.0 705.9 L743.0 705.9 L743.0 707.2 L756.5 707.2" fill="none" stroke="#A23A2E" stroke-width="1.2" stroke-linejoin="round"/>
<path d="M189.0 653.9v7.8M189.9 653.9v7.8M190.8 653.9v7.8M191.7 653.9v7.8M192.6 653.9v7.8M185.1 657.8h3.9M193.5 657.8h3.9M196.9 653.9v7.8M193.0 657.8h3.9M197.2 657.8h3.9M206.0 653.9v7.8M202.1 657.8h3.9M206.4 657.8h3.9M209.0 653.9v7.8M205.1 657.8h3.9M209.0 657.8h3.9M211.9 653.9v7.8M208.0 657.8h3.9M212.0 657.8h3.9M214.7 653.9v7.8M215.6 653.9v7.8M216.5 653.9v7.8M217.4 653.9v7.8M218.3 655.2v7.8M219.2 655.2v7.8M210.8 657.8h3.9M219.4 659.1h3.9M222.3 655.2v7.8M223.2 655.2v7.8M224.1 655.2v7.8M218.4 659.1h3.9M224.1 659.1h3.9M227.8 655.2v7.8M228.7 655.2v7.8M229.6 655.2v7.8M230.5 655.2v7.8M231.4 655.2v7.8M232.3 655.2v7.8M233.2 655.2v7.8M234.1 655.2v7.8M235.0 655.2v7.8M235.9 655.2v7.8M236.8 655.2v7.8M237.7 655.2v7.8M238.6 655.2v7.8M239.5 655.2v7.8M240.4 655.2v7.8M241.3 655.2v7.8M242.2 655.2v7.8M243.1 655.2v7.8M244.0 655.2v7.8M244.9 655.2v7.8M223.9 659.1h3.9M244.9 659.1h3.9M246.5 655.2v7.8M247.4 655.2v7.8M248.3 655.2v7.8M242.6 659.1h3.9M248.9 659.1h3.9M254.0 656.5v7.8M254.9 656.5v7.8M255.8 656.5v7.8M256.7 656.5v7.8M257.6 656.5v7.8M258.5 656.5v7.8M250.1 660.4h3.9M258.8 660.4h3.9M260.8 656.5v7.8M261.7 656.5v7.8M256.9 660.4h3.9M261.7 660.4h3.9M266.6 656.5v7.8M262.7 660.4h3.9M266.6 660.4h3.9M269.5 656.5v7.8M270.4 656.5v7.8M271.3 656.5v7.8M272.2 657.8v7.8M273.1 657.8v7.8M274.0 657.8v7.8M274.9 657.8v7.8M275.8 657.8v7.8M265.6 660.4h3.9M276.4 661.7h3.9M278.0 657.8v7.8M278.9 657.8v7.8M274.1 661.7h3.9M279.1 661.7h3.9M280.8 657.8v7.8M281.7 657.8v7.8M282.6 657.8v7.8M276.9 661.7h3.9M283.4 661.7h3.9M285.1 657.8v7.8M286.0 657.8v7.8M286.9 657.8v7.8M287.8 657.8v7.8M288.7 657.8v7.8M289.6 657.8v7.8M290.5 659.1v7.8M291.4 659.1v7.8M292.3 659.1v7.8M293.2 659.1v7.8M281.2 661.7h3.9M293.6 663.0h3.9M297.9 659.1v7.8M298.8 659.1v7.8M294.0 663.0h3.9M298.9 663.0h3.9M302.9 659.1v7.8M299.0 663.0h3.9M302.9 663.0h3.9M304.5 659.1v7.8M305.4 659.1v7.8M306.3 659.1v7.8M307.2 660.4v7.8M300.6 663.0h3.9M307.2 664.3h3.9M311.3 660.4v7.8M312.2 660.4v7.8M313.1 660.4v7.8M314.0 660.4v7.8M314.9 660.4v7.8M315.8 660.4v7.8M307.4 664.3h3.9M316.0 664.3h3.9M325.9 661.7v7.8M326.8 661.7v7.8M327.7 661.7v7.8M328.6 661.7v7.8M329.5 661.7v7.8M330.4 663.0v7.8M322.0 665.6h3.9M331.3 666.9h3.9M333.0 663.0v7.8M333.9 663.0v7.8M334.8 663.0v7.8M335.7 663.0v7.8M329.1 666.9h3.9M336.6 666.9h3.9M342.5 664.3v7.8M338.6 668.2h3.9M342.5 668.2h3.9M344.9 664.3v7.8M341.0 668.2h3.9M344.9 668.2h3.9M346.5 664.3v7.8M347.4 664.3v7.8M342.6 668.2h3.9M348.0 668.2h3.9M351.2 665.6v7.8M352.1 665.6v7.8M353.0 665.6v7.8M353.9 665.6v7.8M354.8 665.6v7.8M355.7 665.6v7.8M356.6 665.6v7.8M357.5 665.6v7.8M358.4 666.9v7.8M359.3 666.9v7.8M360.2 666.9v7.8M361.1 666.9v7.8M347.3 669.5h3.9M361.6 670.8h3.9M363.2 666.9v7.8M364.1 666.9v7.8M359.3 670.8h3.9M364.8 670.8h3.9M376.7 669.5v7.8M377.6 669.5v7.8M378.5 669.5v7.8M379.4 669.5v7.8M380.3 669.5v7.8M372.8 673.4h3.9M380.6 673.4h3.9M383.2 669.5v7.8M379.3 673.4h3.9M383.5 673.4h3.9M386.5 670.8v7.8M382.6 674.7h3.9M386.9 674.7h3.9M390.0 670.8v7.8M390.9 670.8v7.8M391.8 670.8v7.8M386.1 674.7h3.9M392.6 674.7h3.9M394.7 672.1v7.8M395.6 672.1v7.8M396.5 672.1v7.8M397.4 672.1v7.8M398.3 672.1v7.8M390.8 676.0h3.9M399.0 676.0h3.9M401.1 672.1v7.8M402.0 673.4v7.8M397.2 676.0h3.9M402.5 677.3h3.9M406.9 673.4v7.8M403.0 677.3h3.9M407.3 677.3h3.9M408.9 673.4v7.8M409.8 673.4v7.8M410.7 674.7v7.8M405.0 677.3h3.9M411.0 678.6h3.9M413.2 674.7v7.8M414.1 674.7v7.8M415.0 674.7v7.8M415.9 674.7v7.8M416.8 674.7v7.8M417.7 674.7v7.8M418.6 676.0v7.8M409.3 678.6h3.9M418.9 679.9h3.9M420.6 676.0v7.8M416.7 679.9h3.9M421.5 679.9h3.9M423.1 676.0v7.8M424.0 676.0v7.8M419.2 679.9h3.9M424.4 679.9h3.9M426.3 676.0v7.8M427.2 676.0v7.8M422.4 679.9h3.9M427.6 679.9h3.9M431.4 677.3v7.8M427.5 681.2h3.9M431.4 681.2h3.9M440.8 678.6v7.8M441.7 678.6v7.8M442.6 678.6v7.8M443.5 678.6v7.8M436.9 682.5h3.9M444.0 682.5h3.9M448.2 678.6v7.8M449.1 678.6v7.8M450.0 679.9v7.8M444.3 682.5h3.9M450.0 683.8h3.9M452.8 679.9v7.8M453.7 679.9v7.8M448.9 683.8h3.9M453.9 683.8h3.9M456.0 679.9v7.8M452.1 683.8h3.9M456.2 683.8h3.9M458.1 679.9v7.8M454.2 683.8h3.9M458.7 683.8h3.9M460.6 681.2v7.8M461.5 681.2v7.8M462.4 681.2v7.8M463.3 681.2v7.8M464.2 681.2v7.8M465.1 681.2v7.8M466.0 681.2v7.8M466.9 681.2v7.8M456.7 685.1h3.9M467.2 685.1h3.9M471.3 681.2v7.8M472.2 681.2v7.8M473.1 681.2v7.8M467.4 685.1h3.9M473.9 685.1h3.9M475.5 682.5v7.8M471.6 686.4h3.9M475.9 686.4h3.9M478.5 682.5v7.8M479.4 682.5v7.8M480.3 682.5v7.8M481.2 682.5v7.8M474.6 686.4h3.9M481.6 686.4h3.9M483.8 682.5v7.8M484.7 682.5v7.8M485.6 682.5v7.8M479.9 686.4h3.9M486.3 686.4h3.9M491.7 683.8v7.8M487.8 687.7h3.9M492.2 687.7h3.9M494.2 683.8v7.8M495.1 683.8v7.8M496.0 683.8v7.8M496.9 683.8v7.8M497.8 683.8v7.8M490.3 687.7h3.9M498.0 687.7h3.9M499.9 683.8v7.8M496.0 687.7h3.9M500.0 687.7h3.9M502.1 683.8v7.8M498.2 687.7h3.9M502.1 687.7h3.9M504.4 683.8v7.8M500.5 687.7h3.9M504.4 687.7h3.9M508.4 685.1v7.8M509.3 685.1v7.8M510.2 685.1v7.8M511.1 685.1v7.8M504.5 689.0h3.9M511.7 689.0h3.9M514.2 685.1v7.8M515.1 685.1v7.8M516.0 685.1v7.8M516.9 685.1v7.8M517.8 685.1v7.8M510.3 689.0h3.9M518.3 689.0h3.9M520.0 685.1v7.8M516.1 689.0h3.9M520.6 689.0h3.9M522.2 686.4v7.8M518.3 690.3h3.9M522.2 690.3h3.9M526.6 686.4v7.8M522.7 690.3h3.9M526.6 690.3h3.9M532.7 686.4v7.8M533.6 686.4v7.8M528.8 690.3h3.9M533.8 690.3h3.9M537.2 687.7v7.8M533.3 691.6h3.9M537.2 691.6h3.9M542.7 687.7v7.8M543.6 687.7v7.8M544.5 687.7v7.8M538.8 691.6h3.9M545.4 691.6h3.9M547.0 687.7v7.8M543.1 691.6h3.9M547.0 691.6h3.9M548.6 687.7v7.8M549.5 687.7v7.8M544.7 691.6h3.9M549.5 691.6h3.9M551.1 687.7v7.8M552.0 687.7v7.8M552.9 687.7v7.8M553.8 687.7v7.8M547.2 691.6h3.9M553.8 691.6h3.9M556.2 689.0v7.8M557.1 689.0v7.8M558.0 689.0v7.8M552.3 692.9h3.9M558.2 692.9h3.9M559.9 689.0v7.8M560.8 689.0v7.8M556.0 692.9h3.9M561.5 692.9h3.9M563.8 689.0v7.8M564.7 689.0v7.8M559.9 692.9h3.9M565.4 692.9h3.9M567.6 689.0v7.8M568.5 689.0v7.8M569.4 689.0v7.8M570.3 689.0v7.8M571.2 690.3v7.8M572.1 690.3v7.8M573.0 690.3v7.8M573.9 690.3v7.8M574.8 690.3v7.8M575.7 690.3v7.8M563.7 692.9h3.9M576.2 694.2h3.9M580.8 690.3v7.8M581.7 690.3v7.8M582.6 690.3v7.8M583.5 691.6v7.8M576.9 694.2h3.9M583.9 695.5h3.9M585.9 691.6v7.8M582.0 695.5h3.9M585.9 695.5h3.9M587.5 691.6v7.8M583.6 695.5h3.9M587.5 695.5h3.9M594.8 691.6v7.8M590.9 695.5h3.9M595.0 695.5h3.9M599.9 692.9v7.8M596.0 696.8h3.9M599.9 696.8h3.9M602.9 692.9v7.8M599.0 696.8h3.9M603.4 696.8h3.9M605.0 692.9v7.8M605.9 692.9v7.8M606.8 692.9v7.8M607.7 692.9v7.8M608.6 692.9v7.8M601.1 696.8h3.9M609.4 696.8h3.9M611.7 694.2v7.8M612.6 694.2v7.8M613.5 694.2v7.8M614.4 694.2v7.8M615.3 694.2v7.8M616.2 694.2v7.8M617.1 694.2v7.8M618.0 694.2v7.8M618.9 694.2v7.8M619.8 694.2v7.8M620.7 694.2v7.8M607.8 698.1h3.9M621.4 698.1h3.9M623.0 694.2v7.8M619.1 698.1h3.9M623.6 698.1h3.9M625.2 694.2v7.8M621.3 698.1h3.9M625.6 698.1h3.9M631.5 695.5v7.8M632.4 695.5v7.8M633.3 695.5v7.8M627.6 699.4h3.9M633.9 699.4h3.9M635.9 695.5v7.8M636.8 695.5v7.8M632.0 699.4h3.9M636.9 699.4h3.9M639.8 695.5v7.8M640.7 695.5v7.8M641.6 695.5v7.8M642.5 695.5v7.8M635.9 699.4h3.9M643.4 699.4h3.9M645.0 695.5v7.8M641.1 699.4h3.9M645.0 699.4h3.9M646.6 695.5v7.8M647.5 695.5v7.8M648.4 695.5v7.8M649.3 695.5v7.8M650.2 695.5v7.8M651.1 696.8v7.8M652.0 696.8v7.8M642.7 699.4h3.9M652.0 700.7h3.9M654.8 696.8v7.8M650.9 700.7h3.9M655.2 700.7h3.9M656.8 696.8v7.8M652.9 700.7h3.9M657.6 700.7h3.9M660.2 696.8v7.8M661.1 696.8v7.8M662.0 696.8v7.8M662.9 696.8v7.8M663.8 696.8v7.8M656.3 700.7h3.9M664.5 700.7h3.9M666.1 696.8v7.8M662.2 700.7h3.9M667.0 700.7h3.9M668.6 696.8v7.8M669.5 696.8v7.8M670.4 696.8v7.8M671.3 696.8v7.8M672.2 696.8v7.8M673.1 698.1v7.8M674.0 698.1v7.8M674.9 698.1v7.8M675.8 698.1v7.8M676.7 698.1v7.8M677.6 698.1v7.8M664.7 700.7h3.9M678.3 702.0h3.9M680.5 698.1v7.8M681.4 698.1v7.8M682.3 698.1v7.8M683.2 698.1v7.8M684.1 698.1v7.8M685.0 698.1v7.8M685.9 698.1v7.8M686.8 698.1v7.8M687.7 698.1v7.8M688.6 698.1v7.8M689.5 698.1v7.8M690.4 698.1v7.8M691.3 699.4v7.8M692.2 699.4v7.8M693.1 699.4v7.8M694.0 699.4v7.8M694.9 699.4v7.8M695.8 699.4v7.8M696.7 699.4v7.8M697.6 699.4v7.8M698.5 699.4v7.8M699.4 699.4v7.8M700.3 699.4v7.8M701.2 699.4v7.8M702.1 699.4v7.8M703.0 699.4v7.8M703.9 699.4v7.8M704.8 699.4v7.8M705.7 699.4v7.8M706.6 699.4v7.8M707.5 699.4v7.8M708.4 700.7v7.8M709.3 700.7v7.8M710.2 700.7v7.8M711.1 700.7v7.8M712.0 700.7v7.8M712.9 700.7v7.8M713.8 700.7v7.8M714.7 700.7v7.8M715.6 700.7v7.8M716.5 700.7v7.8M717.4 700.7v7.8M718.3 700.7v7.8M719.2 700.7v7.8M720.1 700.7v7.8M721.0 700.7v7.8M721.9 700.7v7.8M722.8 700.7v7.8M723.7 700.7v7.8M724.6 700.7v7.8M725.5 702.0v7.8M726.4 702.0v7.8M727.3 702.0v7.8M728.2 702.0v7.8M729.1 702.0v7.8M730.0 702.0v7.8M730.9 702.0v7.8M731.8 702.0v7.8M732.7 702.0v7.8M733.6 702.0v7.8M734.5 702.0v7.8M735.4 702.0v7.8M736.3 702.0v7.8M737.2 702.0v7.8M738.1 702.0v7.8M739.0 702.0v7.8M739.9 702.0v7.8M740.8 702.0v7.8M741.7 702.0v7.8M742.6 702.0v7.8M743.5 703.3v7.8M744.4 703.3v7.8M745.3 703.3v7.8M746.2 703.3v7.8M747.1 703.3v7.8M748.0 703.3v7.8M748.9 703.3v7.8M749.8 703.3v7.8M750.7 703.3v7.8M751.6 703.3v7.8M752.5 703.3v7.8M676.6 702.0h3.9M753.0 707.2h3.9" fill="none" stroke="#A23A2E" stroke-width="1.1"/>
<text x="619.7" y="666.7" font-family='"Liberation Serif", "Times New Roman", serif' font-size="20.55" font-weight="normal" fill="#0070c0" text-anchor="start" textLength="44.5" lengthAdjust="spacingAndGlyphs">AdiC</text>
<text x="625.0" y="729.7" font-family='"Liberation Serif", "Times New Roman", serif' font-size="20.55" font-weight="normal" fill="#ff0000" text-anchor="start" textLength="43.6" lengthAdjust="spacingAndGlyphs">NAC</text>
<rect x="375" y="938.4" width="387.6" height="59.60000000000002" fill="#fff" stroke="#000" stroke-width="1.6"/>
<text x="418.1" y="975.9" font-family='"Liberation Serif", "Times New Roman", serif' font-size="20.55" font-weight="normal" fill="#000" text-anchor="start" textLength="320.1" lengthAdjust="spacingAndGlyphs">HR 1.45 (95% CI: 1.26-1.68), p&lt;.0001</text>
</svg>
</body></html>
